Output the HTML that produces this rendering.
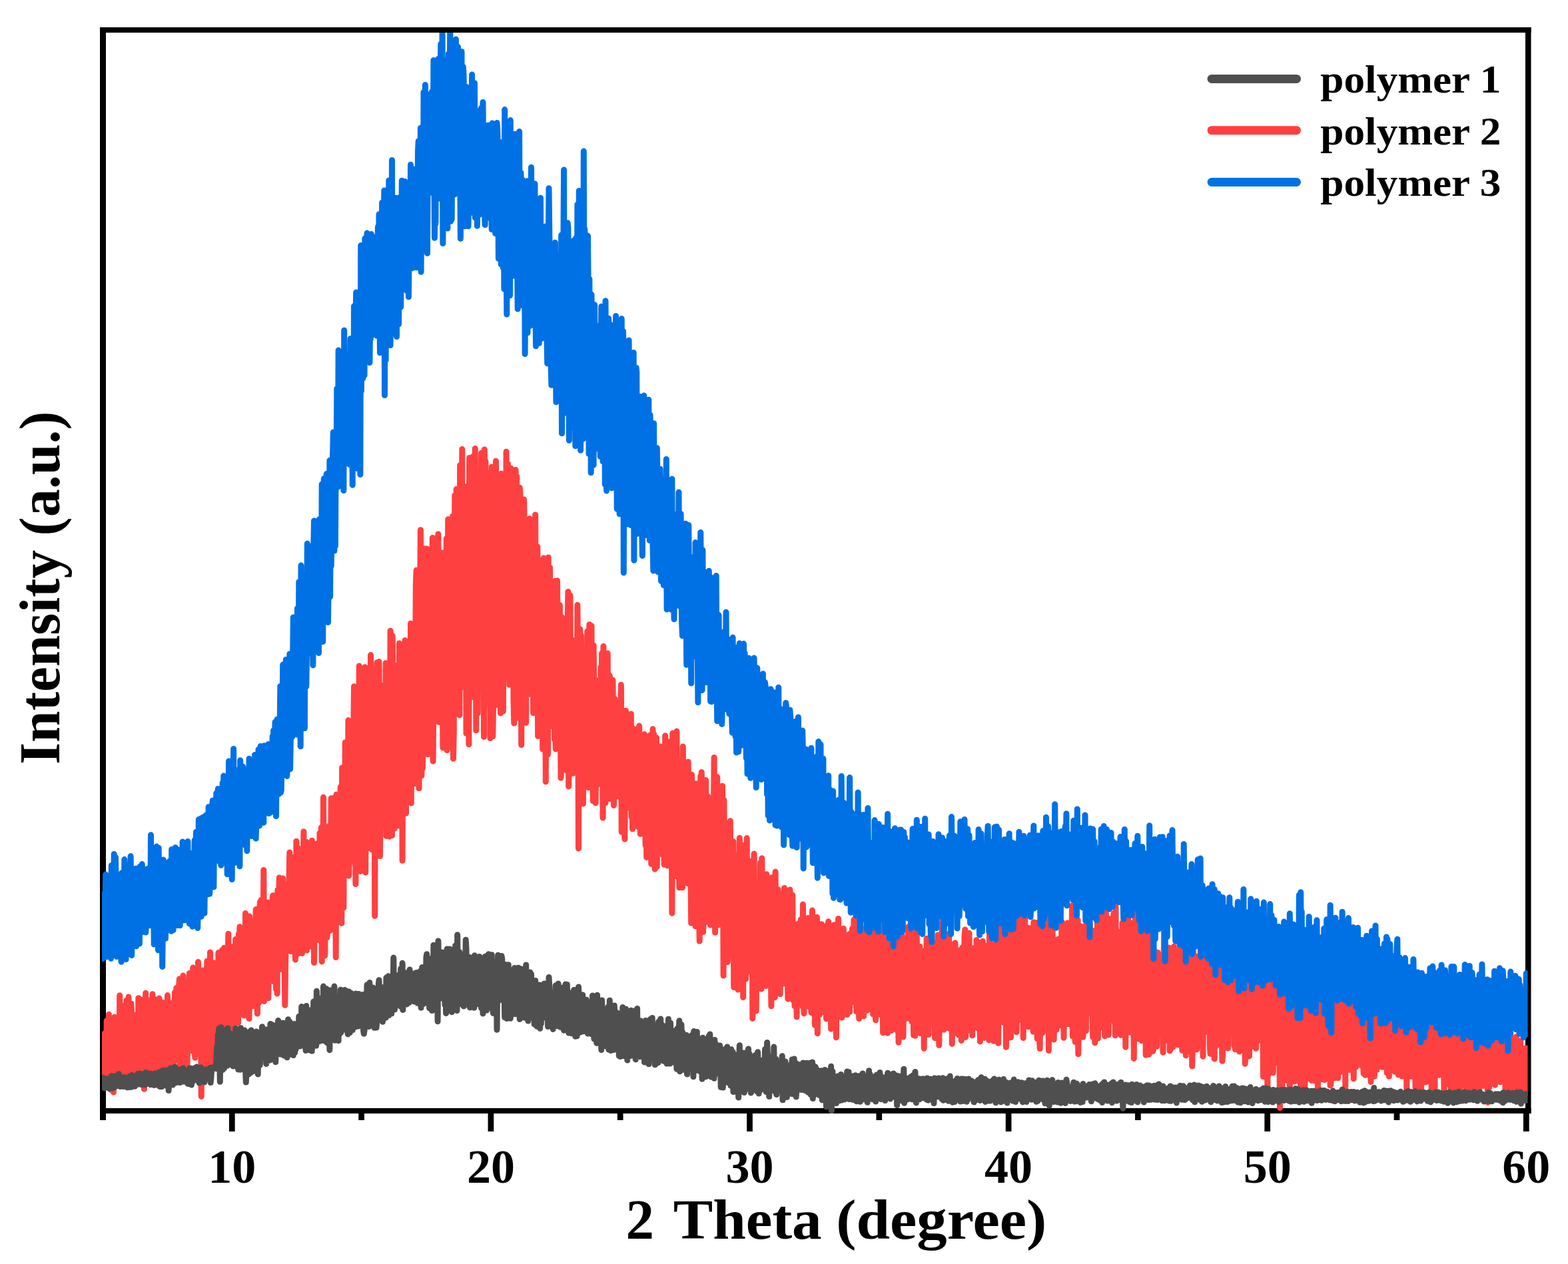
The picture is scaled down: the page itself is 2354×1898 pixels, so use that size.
<!DOCTYPE html>
<html><head><meta charset="utf-8"><style>
html,body{margin:0;padding:0;background:#fff;}
svg{display:block;}
text{font-family:"Liberation Serif","Times New Roman",serif;font-weight:bold;fill:#000;}
</style></head><body>
<svg width="2354" height="1898" viewBox="0 0 2354 1898" xmlns="http://www.w3.org/2000/svg">
<rect width="2354" height="1898" fill="#fff"/>
<defs><clipPath id="pc"><rect x="153" y="48.9" width="2140.5" height="1623.1"/></clipPath></defs>
<g fill="#000">
<rect x="150" y="41" width="9" height="1631"/>
<rect x="150" y="41" width="2148.5" height="8"/>
<rect x="2290" y="41" width="8.5" height="1631"/>
<rect x="150" y="1664" width="2148.5" height="8"/>
<rect x="343.95" y="1664" width="8.7" height="35"/><rect x="732.55" y="1664" width="8.7" height="35"/><rect x="1121.15" y="1664" width="8.7" height="35"/><rect x="1509.75" y="1664" width="8.7" height="35"/><rect x="1898.35" y="1664" width="8.7" height="35"/><rect x="2286.95" y="1664" width="8.7" height="35"/><rect x="538.25" y="1664" width="8.7" height="18"/><rect x="926.85" y="1664" width="8.7" height="18"/><rect x="1315.45" y="1664" width="8.7" height="18"/><rect x="1704.05" y="1664" width="8.7" height="18"/><rect x="2092.65" y="1664" width="8.7" height="18"/><rect x="150" y="1664" width="9" height="18"/>
</g>
<g clip-path="url(#pc)" fill="none" stroke-width="9.0" stroke-linejoin="round" stroke-linecap="round">
<path stroke="#ff4040" d="M154.0 1624.7L154.8 1586.4 155.6 1556.3 156.3 1570.7 157.1 1551.8 157.9 1588.7 158.7 1589.8 159.5 1622.9 160.2 1532.8 161.0 1588.1 161.8 1622.9 162.6 1567.8 163.4 1523.2 164.1 1610.1 164.9 1626.5 165.7 1552.8 166.5 1636.3 167.3 1625.9 168.0 1548.7 168.8 1567.3 169.6 1599.0 170.4 1639.9 171.2 1574.5 171.9 1527.2 172.7 1533.0 173.5 1564.9 174.3 1600.8 175.1 1624.5 175.8 1533.3 176.6 1612.4 177.4 1570.8 178.2 1548.2 179.0 1618.0 179.7 1494.8 180.5 1560.1 181.3 1562.0 182.1 1580.9 182.9 1609.7 183.6 1563.9 184.4 1510.4 185.2 1596.7 186.0 1602.3 186.8 1510.7 187.5 1548.0 188.3 1538.5 189.1 1628.6 189.9 1502.2 190.7 1587.1 191.4 1620.0 192.2 1557.6 193.0 1496.9 193.8 1579.7 194.6 1539.8 195.3 1579.9 196.1 1594.4 196.9 1507.1 197.7 1523.6 198.5 1631.9 199.2 1538.6 200.0 1585.6 200.8 1560.3 201.6 1608.3 202.4 1524.6 203.1 1578.2 203.9 1542.6 204.7 1581.3 205.5 1622.6 206.3 1522.5 207.0 1588.7 207.8 1498.8 208.6 1535.0 209.4 1622.5 210.2 1598.8 210.9 1535.8 211.7 1501.1 212.5 1577.9 213.3 1570.2 214.1 1528.4 214.8 1524.1 215.6 1596.7 216.4 1635.3 217.2 1561.5 218.0 1558.1 218.7 1491.3 219.5 1564.3 220.3 1606.5 221.1 1541.2 221.9 1509.4 222.6 1563.7 223.4 1620.5 224.2 1608.8 225.0 1522.7 225.8 1587.9 226.5 1501.4 227.3 1621.3 228.1 1556.4 228.9 1492.7 229.7 1559.2 230.4 1587.0 231.2 1620.7 232.0 1610.8 232.8 1590.7 233.6 1501.1 234.3 1524.8 235.1 1598.9 235.9 1521.6 236.7 1567.7 237.5 1614.9 238.2 1569.2 239.0 1499.1 239.8 1564.7 240.6 1613.0 241.4 1592.5 242.1 1537.7 242.9 1515.7 243.7 1581.1 244.5 1505.6 245.3 1556.0 246.0 1594.6 246.8 1525.8 247.6 1587.6 248.4 1524.9 249.2 1602.5 249.9 1553.3 250.7 1555.6 251.5 1494.6 252.3 1552.6 253.1 1612.1 253.8 1507.0 254.6 1521.4 255.4 1624.8 256.2 1572.3 257.0 1544.3 257.7 1591.8 258.5 1587.3 259.3 1505.8 260.1 1611.9 260.9 1554.6 261.6 1572.4 262.4 1490.3 263.2 1579.7 264.0 1523.4 264.8 1483.4 265.5 1592.1 266.3 1575.4 267.1 1524.8 267.9 1589.9 268.7 1479.6 269.4 1469.9 270.2 1614.2 271.0 1513.7 271.8 1570.6 272.6 1585.4 273.3 1618.2 274.1 1513.6 274.9 1465.1 275.7 1560.3 276.5 1513.5 277.2 1506.2 278.0 1608.5 278.8 1514.7 279.6 1570.8 280.4 1481.5 281.1 1597.2 281.9 1550.8 282.7 1564.6 283.5 1487.6 284.3 1461.6 285.0 1486.1 285.8 1577.2 286.6 1572.0 287.4 1526.8 288.2 1560.2 288.9 1537.1 289.7 1453.1 290.5 1579.4 291.3 1456.6 292.1 1569.3 292.8 1588.2 293.6 1490.8 294.4 1570.1 295.2 1458.0 296.0 1494.9 296.7 1568.9 297.5 1444.5 298.3 1580.1 299.1 1535.5 299.9 1534.3 300.6 1526.0 301.4 1469.2 302.2 1646.4 303.0 1539.0 303.8 1614.6 304.5 1457.1 305.3 1490.4 306.1 1540.4 306.9 1619.4 307.7 1529.4 308.4 1464.7 309.2 1459.5 310.0 1545.4 310.8 1443.2 311.6 1599.2 312.3 1505.3 313.1 1598.0 313.9 1468.5 314.7 1551.0 315.5 1429.9 316.2 1467.1 317.0 1540.7 317.8 1605.7 318.6 1513.6 319.4 1510.7 320.1 1445.5 320.9 1550.3 321.7 1494.5 322.5 1472.4 323.3 1582.5 324.0 1560.8 324.8 1479.6 325.6 1478.2 326.4 1569.9 327.2 1524.2 327.9 1430.6 328.7 1560.8 329.5 1477.7 330.3 1441.5 331.1 1521.5 331.8 1499.2 332.6 1525.6 333.4 1426.7 334.2 1556.6 335.0 1488.7 335.7 1542.1 336.5 1423.3 337.3 1543.8 338.1 1563.9 338.9 1529.4 339.6 1424.1 340.4 1470.1 341.2 1513.6 342.0 1472.9 342.8 1402.2 343.5 1547.0 344.3 1545.1 345.1 1499.6 345.9 1475.2 346.7 1421.4 347.4 1475.7 348.2 1510.8 349.0 1435.3 349.8 1570.5 350.6 1422.4 351.3 1456.9 352.1 1513.0 352.9 1524.0 353.7 1410.4 354.5 1525.0 355.2 1525.5 356.0 1424.3 356.8 1433.0 357.6 1536.0 358.4 1402.3 359.1 1502.6 359.9 1391.7 360.7 1443.0 361.5 1521.4 362.3 1499.1 363.0 1483.7 363.8 1411.3 364.6 1414.2 365.4 1506.8 366.2 1524.9 366.9 1433.4 367.7 1484.9 368.5 1371.5 369.3 1462.9 370.1 1457.4 370.8 1392.9 371.6 1521.3 372.4 1436.0 373.2 1475.8 374.0 1529.6 374.7 1376.0 375.5 1503.8 376.3 1450.9 377.1 1403.5 377.9 1439.3 378.6 1390.8 379.4 1510.6 380.2 1479.1 381.0 1439.8 381.8 1476.7 382.5 1382.3 383.3 1469.2 384.1 1365.9 384.9 1365.3 385.7 1428.2 386.4 1522.1 387.2 1404.4 388.0 1446.0 388.8 1505.7 389.6 1416.2 390.3 1354.4 391.1 1477.5 391.9 1351.5 392.7 1404.8 393.5 1426.4 394.2 1389.8 395.0 1443.5 395.8 1306.4 396.6 1503.5 397.4 1441.7 398.1 1373.0 398.9 1393.4 399.7 1467.7 400.5 1400.1 401.3 1453.5 402.0 1355.3 402.8 1498.7 403.6 1436.9 404.4 1373.4 405.2 1393.0 405.9 1460.4 406.7 1383.6 407.5 1445.6 408.3 1452.7 409.1 1347.5 409.8 1344.7 410.6 1473.6 411.4 1444.8 412.2 1371.7 413.0 1367.4 413.7 1418.4 414.5 1485.4 415.3 1358.1 416.1 1492.0 416.9 1336.3 417.6 1390.7 418.4 1373.1 419.2 1318.0 420.0 1353.3 420.8 1452.1 421.5 1441.7 422.3 1455.5 423.1 1374.6 423.9 1415.4 424.7 1319.1 425.4 1362.9 426.2 1339.4 427.0 1430.3 427.8 1509.4 428.6 1446.7 429.3 1402.4 430.1 1328.2 430.9 1362.4 431.7 1372.2 432.5 1393.3 433.2 1420.4 434.0 1322.3 434.8 1279.9 435.6 1406.6 436.4 1428.4 437.1 1317.7 437.9 1286.9 438.7 1420.8 439.5 1352.3 440.3 1376.7 441.0 1341.7 441.8 1306.6 442.6 1407.5 443.4 1440.9 444.2 1391.1 444.9 1263.3 445.7 1412.3 446.5 1362.6 447.3 1432.0 448.1 1273.9 448.8 1331.8 449.6 1365.1 450.4 1312.4 451.2 1413.3 452.0 1397.5 452.7 1324.9 453.5 1431.5 454.3 1376.0 455.1 1380.2 455.9 1248.8 456.6 1385.3 457.4 1417.2 458.2 1278.8 459.0 1350.9 459.8 1264.2 460.5 1427.1 461.3 1383.0 462.1 1349.7 462.9 1291.5 463.7 1325.5 464.4 1407.7 465.2 1350.8 466.0 1420.9 466.8 1378.5 467.6 1324.3 468.3 1262.3 469.1 1273.8 469.9 1312.2 470.7 1344.0 471.5 1445.6 472.2 1394.8 473.0 1348.2 473.8 1271.1 474.6 1277.1 475.4 1266.9 476.1 1296.4 476.9 1380.8 477.7 1355.1 478.5 1411.3 479.3 1331.0 480.0 1250.6 480.8 1308.1 481.6 1310.6 482.4 1242.4 483.2 1443.9 483.9 1351.1 484.7 1345.3 485.5 1197.2 486.3 1323.3 487.1 1401.6 487.8 1434.9 488.6 1257.5 489.4 1338.3 490.2 1291.7 491.0 1407.8 491.7 1363.1 492.5 1250.9 493.3 1248.4 494.1 1240.3 494.9 1397.8 495.6 1252.5 496.4 1350.4 497.2 1198.8 498.0 1395.9 498.8 1244.8 499.5 1361.4 500.3 1264.2 501.1 1198.2 501.9 1362.4 502.7 1365.6 503.4 1245.1 504.2 1437.6 505.0 1192.9 505.8 1307.0 506.6 1335.6 507.3 1314.4 508.1 1195.6 508.9 1258.5 509.7 1325.6 510.5 1363.2 511.2 1181.7 512.0 1235.6 512.8 1386.4 513.6 1152.8 514.4 1287.8 515.1 1213.2 515.9 1363.1 516.7 1203.1 517.5 1227.2 518.3 1114.8 519.0 1194.5 519.8 1232.5 520.6 1302.4 521.4 1121.7 522.2 1212.8 522.9 1081.6 523.7 1315.1 524.5 1283.9 525.3 1088.5 526.1 1190.0 526.8 1088.8 527.6 1274.8 528.4 1177.1 529.2 1293.0 530.0 1276.2 530.7 1104.5 531.5 1030.7 532.3 1217.4 533.1 1120.9 533.9 1327.6 534.6 1217.1 535.4 1091.5 536.2 1291.2 537.0 1143.8 537.8 1217.7 538.5 1143.5 539.3 999.9 540.1 1292.8 540.9 1308.4 541.7 1093.8 542.4 1033.8 543.2 1169.0 544.0 1126.0 544.8 1048.0 545.6 1247.8 546.3 1259.9 547.1 1131.0 547.9 1001.8 548.7 1310.1 549.5 1170.2 550.2 1048.3 551.0 1274.5 551.8 1171.5 552.6 1137.4 553.4 1146.7 554.1 1020.9 554.9 1246.5 555.7 1079.2 556.5 983.6 557.3 1111.8 558.0 1179.3 558.8 1276.0 559.6 1053.5 560.4 1226.2 561.2 1174.4 561.9 1115.8 562.7 1375.4 563.5 1119.8 564.3 1137.9 565.1 1054.2 565.8 995.0 566.6 1126.2 567.4 1086.2 568.2 1226.5 569.0 993.6 569.7 1113.6 570.5 1285.5 571.3 1161.6 572.1 1127.3 572.9 1217.6 573.6 1167.8 574.4 1029.6 575.2 1102.8 576.0 1238.8 576.8 1032.0 577.5 1116.9 578.3 1152.4 579.1 995.8 579.9 1255.4 580.7 1102.9 581.4 1186.1 582.2 1052.4 583.0 1238.3 583.8 1121.3 584.6 1256.1 585.3 1122.3 586.1 947.3 586.9 1029.5 587.7 1172.4 588.5 1254.6 589.2 954.8 590.0 1063.1 590.8 1125.0 591.6 1076.2 592.4 1244.1 593.1 999.4 593.9 1130.4 594.7 1020.7 595.5 1202.5 596.3 1019.0 597.0 1046.0 597.8 1174.6 598.6 1239.7 599.4 966.0 600.2 1007.1 600.9 1232.2 601.7 1149.7 602.5 1052.4 603.3 1037.1 604.1 1292.2 604.8 1122.5 605.6 979.9 606.4 1119.9 607.2 1217.2 608.0 961.5 608.7 1058.9 609.5 1221.3 610.3 1005.5 611.1 995.9 611.9 1080.3 612.6 982.8 613.4 1013.3 614.2 1204.0 615.0 1097.2 615.8 1110.5 616.5 936.3 617.3 1206.0 618.1 984.1 618.9 969.4 619.7 1164.5 620.4 1118.1 621.2 1005.8 622.0 1044.5 622.8 1176.4 623.6 995.4 624.3 878.5 625.1 856.3 625.9 1073.9 626.7 1014.1 627.5 1125.1 628.2 1002.5 629.0 1183.7 629.8 861.8 630.6 899.5 631.4 795.7 632.1 981.7 632.9 1164.9 633.7 990.7 634.5 1153.6 635.3 994.1 636.0 922.2 636.8 823.7 637.6 1017.1 638.4 1080.2 639.2 898.1 639.9 851.9 640.7 824.1 641.5 933.2 642.3 1132.8 643.1 971.1 643.8 1090.1 644.6 926.2 645.4 831.6 646.2 1055.1 647.0 1077.9 647.7 1083.4 648.5 866.9 649.3 807.6 650.1 1143.1 650.9 1047.4 651.6 926.5 652.4 856.0 653.2 923.7 654.0 808.2 654.8 986.1 655.5 1078.3 656.3 900.7 657.1 1026.1 657.9 801.9 658.7 1084.2 659.4 910.0 660.2 838.6 661.0 931.6 661.8 1068.9 662.6 1017.2 663.3 830.1 664.1 874.7 664.9 1122.8 665.7 1027.4 666.5 1063.7 667.2 912.1 668.0 840.6 668.8 969.7 669.6 868.9 670.4 808.4 671.1 1126.6 671.9 956.8 672.7 779.7 673.5 1121.7 674.3 835.7 675.0 815.6 675.8 1033.8 676.6 820.5 677.4 1025.8 678.2 973.7 678.9 907.9 679.7 774.9 680.5 1139.3 681.3 1099.7 682.1 890.0 682.8 743.8 683.6 925.0 684.4 1033.3 685.2 734.5 686.0 989.9 686.7 890.5 687.5 893.9 688.3 784.2 689.1 951.2 689.9 1073.8 690.6 698.8 691.4 723.1 692.2 1032.1 693.0 971.5 693.8 674.5 694.5 1032.0 695.3 893.2 696.1 832.5 696.9 907.2 697.7 730.5 698.4 1005.7 699.2 885.3 700.0 1101.2 700.8 1010.3 701.6 763.5 702.3 763.8 703.1 882.1 703.9 1117.8 704.7 687.5 705.5 768.9 706.2 936.0 707.0 838.6 707.8 690.3 708.6 998.5 709.4 820.3 710.1 985.1 710.9 684.4 711.7 1047.4 712.5 915.1 713.3 673.4 714.0 806.2 714.8 1096.8 715.6 757.4 716.4 800.3 717.2 1071.0 717.9 896.4 718.7 921.2 719.5 729.2 720.3 1032.5 721.1 841.1 721.8 933.0 722.6 680.2 723.4 995.9 724.2 722.4 725.0 938.7 725.7 740.5 726.5 1106.4 727.3 674.9 728.1 862.1 728.9 692.4 729.6 916.6 730.4 1053.7 731.2 709.8 732.0 811.2 732.8 918.8 733.5 1051.7 734.3 728.0 735.1 787.2 735.9 1108.5 736.7 950.8 737.4 823.7 738.2 701.2 739.0 885.8 739.8 1105.7 740.6 1055.1 741.3 747.0 742.1 935.0 742.9 770.2 743.7 1058.9 744.5 692.3 745.2 918.4 746.0 813.8 746.8 782.7 747.6 858.1 748.4 910.8 749.1 998.2 749.9 790.1 750.7 996.8 751.5 1070.9 752.3 711.2 753.0 726.4 753.8 916.7 754.6 830.4 755.4 1067.8 756.2 781.9 756.9 787.6 757.7 884.7 758.5 1017.1 759.3 875.6 760.1 678.3 760.8 999.7 761.6 958.9 762.4 696.1 763.2 903.4 764.0 861.5 764.7 1028.2 765.5 1003.9 766.3 918.6 767.1 703.2 767.9 865.1 768.6 744.8 769.4 946.3 770.2 840.1 771.0 1053.4 771.8 1086.1 772.5 831.4 773.3 884.3 774.1 705.4 774.9 1078.4 775.7 715.1 776.4 937.5 777.2 845.1 778.0 867.8 778.8 813.6 779.6 1050.3 780.3 732.5 781.1 747.5 781.9 905.6 782.7 1118.6 783.5 818.3 784.2 945.4 785.0 1078.0 785.8 819.8 786.6 749.9 787.4 798.8 788.1 991.4 788.9 855.5 789.7 1085.2 790.5 780.7 791.3 921.4 792.0 829.1 792.8 1041.3 793.6 864.3 794.4 1022.9 795.2 778.8 795.9 941.2 796.7 1042.4 797.5 929.9 798.3 997.1 799.1 827.6 799.8 785.2 800.6 1070.6 801.4 951.7 802.2 922.8 803.0 1008.9 803.7 773.0 804.5 1039.2 805.3 940.4 806.1 985.3 806.9 820.9 807.6 1105.4 808.4 919.4 809.2 841.4 810.0 1051.6 810.8 896.8 811.5 1099.4 812.3 928.3 813.1 841.6 813.9 984.9 814.7 1125.0 815.4 1030.9 816.2 837.9 817.0 932.0 817.8 1123.3 818.6 1012.4 819.3 1173.8 820.1 909.1 820.9 960.2 821.7 1011.4 822.5 1132.8 823.2 836.9 824.0 996.3 824.8 1001.1 825.6 852.1 826.4 987.6 827.1 1081.6 827.9 1090.3 828.7 1087.9 829.5 881.0 830.3 972.8 831.0 1050.8 831.8 965.5 832.6 1110.6 833.4 872.4 834.2 1124.7 834.9 1032.2 835.7 887.2 836.5 872.0 837.3 987.8 838.1 917.3 838.8 1077.9 839.6 1035.2 840.4 908.6 841.2 1069.9 842.0 1168.1 842.7 1016.6 843.5 926.7 844.3 1144.3 845.1 1029.0 845.9 993.3 846.6 965.1 847.4 1113.8 848.2 1038.4 849.0 1016.4 849.8 1075.2 850.5 1157.1 851.3 1016.5 852.1 938.2 852.9 888.4 853.7 1180.7 854.4 1073.6 855.2 987.9 856.0 894.1 856.8 1157.9 857.6 988.0 858.3 1082.6 859.1 961.2 859.9 1085.0 860.7 1161.2 861.5 1002.5 862.2 1132.1 863.0 1087.5 863.8 965.9 864.6 1052.3 865.4 1134.9 866.1 1074.5 866.9 908.4 867.7 1020.1 868.5 1274.1 869.3 1008.0 870.0 1110.6 870.8 944.8 871.6 1069.9 872.4 954.6 873.2 1070.5 873.9 1155.0 874.7 1072.2 875.5 1206.7 876.3 980.9 877.1 1142.6 877.8 1169.4 878.6 1119.0 879.4 1001.7 880.2 982.4 881.0 1099.3 881.7 948.1 882.5 1063.5 883.3 1182.5 884.1 1015.6 884.9 937.7 885.6 1160.5 886.4 1122.6 887.2 1120.4 888.0 939.7 888.8 1057.6 889.5 1153.1 890.3 1202.8 891.1 969.2 891.9 1034.5 892.7 1157.1 893.4 1020.5 894.2 1205.8 895.0 1116.5 895.8 1049.3 896.6 1153.0 897.3 1038.0 898.1 1022.3 898.9 1142.7 899.7 1084.5 900.5 1177.2 901.2 1136.6 902.0 1001.8 902.8 1051.8 903.6 980.9 904.4 1120.5 905.1 1228.1 905.9 970.5 906.7 1178.9 907.5 1031.7 908.3 1160.1 909.0 1205.5 909.8 1000.7 910.6 1083.9 911.4 1144.4 912.2 981.1 912.9 1135.7 913.7 1154.4 914.5 1061.6 915.3 1014.6 916.1 1199.6 916.8 1150.8 917.6 1133.6 918.4 1195.4 919.2 1161.7 920.0 1021.3 920.7 1126.2 921.5 1209.4 922.3 1094.8 923.1 1049.4 923.9 1156.9 924.6 1161.8 925.4 1195.2 926.2 1103.7 927.0 1053.9 927.8 1120.6 928.5 1196.3 929.3 1056.1 930.1 1148.6 930.9 1143.8 931.7 1096.6 932.4 1028.3 933.2 1249.2 934.0 1151.3 934.8 1103.1 935.6 1075.2 936.3 1205.5 937.1 1165.9 937.9 1260.1 938.7 1109.3 939.5 1067.2 940.2 1148.9 941.0 1213.4 941.8 1075.5 942.6 1179.7 943.4 1179.1 944.1 1150.6 944.9 1204.1 945.7 1110.1 946.5 1129.6 947.3 1072.0 948.0 1226.8 948.8 1190.0 949.6 1244.8 950.4 1093.9 951.2 1226.7 951.9 1179.1 952.7 1116.3 953.5 1164.6 954.3 1228.9 955.1 1211.9 955.8 1191.1 956.6 1094.8 957.4 1169.1 958.2 1241.8 959.0 1135.9 959.7 1090.1 960.5 1228.9 961.3 1252.2 962.1 1239.6 962.9 1137.2 963.6 1250.9 964.4 1141.0 965.2 1156.3 966.0 1244.1 966.8 1225.0 967.5 1102.6 968.3 1140.8 969.1 1269.2 969.9 1202.9 970.7 1287.4 971.4 1195.9 972.2 1112.1 973.0 1252.0 973.8 1234.0 974.6 1201.5 975.3 1264.2 976.1 1103.7 976.9 1169.3 977.7 1297.3 978.5 1164.7 979.2 1222.6 980.0 1094.8 980.8 1204.5 981.6 1102.0 982.4 1242.1 983.1 1305.1 983.9 1232.4 984.7 1167.6 985.5 1107.8 986.3 1301.3 987.0 1133.3 987.8 1241.1 988.6 1247.7 989.4 1222.5 990.2 1276.6 990.9 1257.0 991.7 1121.0 992.5 1154.8 993.3 1250.5 994.1 1185.9 994.8 1283.7 995.6 1146.8 996.4 1196.2 997.2 1298.3 998.0 1208.9 998.7 1104.7 999.5 1207.8 1000.3 1163.9 1001.1 1196.6 1001.9 1299.7 1002.6 1191.9 1003.4 1292.4 1004.2 1230.9 1005.0 1114.1 1005.8 1138.1 1006.5 1273.0 1007.3 1291.7 1008.1 1202.5 1008.9 1371.2 1009.7 1101.1 1010.4 1216.3 1011.2 1226.6 1012.0 1289.5 1012.8 1259.1 1013.6 1231.8 1014.3 1152.2 1015.1 1189.8 1015.9 1098.1 1016.7 1267.2 1017.5 1316.9 1018.2 1172.1 1019.0 1261.3 1019.8 1332.8 1020.6 1187.7 1021.4 1304.1 1022.1 1257.2 1022.9 1148.4 1023.7 1140.6 1024.5 1332.7 1025.3 1121.0 1026.0 1202.9 1026.8 1263.6 1027.6 1247.2 1028.4 1199.4 1029.2 1280.1 1029.9 1243.0 1030.7 1196.9 1031.5 1252.5 1032.3 1326.6 1033.1 1143.9 1033.8 1218.7 1034.6 1263.9 1035.4 1323.1 1036.2 1181.9 1037.0 1314.6 1037.7 1386.1 1038.5 1163.3 1039.3 1207.3 1040.1 1176.3 1040.9 1226.8 1041.6 1290.9 1042.4 1362.5 1043.2 1277.6 1044.0 1390.8 1044.8 1176.7 1045.5 1241.1 1046.3 1358.5 1047.1 1266.8 1047.9 1186.4 1048.7 1291.2 1049.4 1352.0 1050.2 1413.2 1051.0 1221.6 1051.8 1165.2 1052.6 1327.1 1053.3 1159.5 1054.1 1274.0 1054.9 1374.8 1055.7 1399.2 1056.5 1251.8 1057.2 1197.1 1058.0 1326.4 1058.8 1297.9 1059.6 1171.5 1060.4 1277.6 1061.1 1384.2 1061.9 1252.5 1062.7 1195.7 1063.5 1288.1 1064.3 1350.0 1065.0 1209.0 1065.8 1264.4 1066.6 1389.0 1067.4 1244.0 1068.2 1344.7 1068.9 1207.3 1069.7 1347.8 1070.5 1219.5 1071.3 1239.4 1072.1 1137.5 1072.8 1305.4 1073.6 1400.3 1074.4 1224.3 1075.2 1333.4 1076.0 1356.1 1076.7 1166.7 1077.5 1221.4 1078.3 1389.1 1079.1 1283.0 1079.9 1234.3 1080.6 1188.4 1081.4 1387.4 1082.2 1285.7 1083.0 1314.3 1083.8 1328.7 1084.5 1180.2 1085.3 1251.8 1086.1 1465.1 1086.9 1201.3 1087.7 1304.0 1088.4 1328.5 1089.2 1376.2 1090.0 1353.6 1090.8 1266.5 1091.6 1237.5 1092.3 1444.5 1093.1 1414.2 1093.9 1269.8 1094.7 1371.2 1095.5 1248.3 1096.2 1232.7 1097.0 1292.2 1097.8 1388.8 1098.6 1432.7 1099.4 1271.0 1100.1 1389.0 1100.9 1263.6 1101.7 1482.6 1102.5 1296.5 1103.3 1423.4 1104.0 1283.9 1104.8 1354.6 1105.6 1347.9 1106.4 1285.7 1107.2 1351.2 1107.9 1486.1 1108.7 1363.2 1109.5 1460.6 1110.3 1258.2 1111.1 1413.7 1111.8 1448.6 1112.6 1267.9 1113.4 1302.6 1114.2 1418.5 1115.0 1337.5 1115.7 1497.5 1116.5 1318.8 1117.3 1410.1 1118.1 1387.1 1118.9 1274.6 1119.6 1470.1 1120.4 1365.7 1121.2 1258.6 1122.0 1414.3 1122.8 1448.7 1123.5 1354.2 1124.3 1342.8 1125.1 1293.0 1125.9 1458.6 1126.7 1426.1 1127.4 1394.2 1128.2 1376.0 1129.0 1305.0 1129.8 1529.4 1130.6 1427.9 1131.3 1377.8 1132.1 1282.0 1132.9 1473.5 1133.7 1326.3 1134.5 1378.5 1135.2 1518.1 1136.0 1383.9 1136.8 1410.6 1137.6 1346.0 1138.4 1433.7 1139.1 1340.5 1139.9 1426.5 1140.7 1476.7 1141.5 1295.5 1142.3 1377.5 1143.0 1485.1 1143.8 1288.8 1144.6 1391.5 1145.4 1418.4 1146.2 1478.6 1146.9 1416.4 1147.7 1379.6 1148.5 1330.8 1149.3 1442.3 1150.1 1480.4 1150.8 1312.7 1151.6 1360.4 1152.4 1395.4 1153.2 1321.6 1154.0 1440.5 1154.7 1456.9 1155.5 1343.2 1156.3 1325.8 1157.1 1438.2 1157.9 1510.8 1158.6 1317.8 1159.4 1382.5 1160.2 1494.6 1161.0 1479.9 1161.8 1410.3 1162.5 1409.8 1163.3 1497.7 1164.1 1309.1 1164.9 1409.2 1165.7 1460.2 1166.4 1358.5 1167.2 1341.5 1168.0 1335.6 1168.8 1486.6 1169.6 1399.8 1170.3 1454.5 1171.1 1492.6 1171.9 1415.0 1172.7 1348.5 1173.5 1371.9 1174.2 1397.4 1175.0 1453.4 1175.8 1477.0 1176.6 1351.5 1177.4 1333.5 1178.1 1466.3 1178.9 1457.2 1179.7 1368.5 1180.5 1476.5 1181.3 1337.0 1182.0 1399.9 1182.8 1499.9 1183.6 1488.3 1184.4 1456.7 1185.2 1404.2 1185.9 1336.1 1186.7 1352.2 1187.5 1457.6 1188.3 1400.0 1189.1 1469.0 1189.8 1344.0 1190.6 1501.7 1191.4 1420.8 1192.2 1475.1 1193.0 1510.7 1193.7 1403.0 1194.5 1396.0 1195.3 1421.3 1196.1 1527.0 1196.9 1403.0 1197.6 1454.6 1198.4 1386.7 1199.2 1430.3 1200.0 1406.4 1200.8 1461.9 1201.5 1494.5 1202.3 1380.8 1203.1 1422.7 1203.9 1452.5 1204.7 1511.0 1205.4 1358.1 1206.2 1434.4 1207.0 1521.7 1207.8 1445.5 1208.6 1478.0 1209.3 1420.8 1210.1 1511.0 1210.9 1414.8 1211.7 1460.3 1212.5 1429.3 1213.2 1378.6 1214.0 1511.4 1214.8 1407.4 1215.6 1428.0 1216.4 1448.3 1217.1 1501.8 1217.9 1520.5 1218.7 1474.5 1219.5 1367.1 1220.3 1444.6 1221.0 1476.1 1221.8 1387.7 1222.6 1453.1 1223.4 1539.2 1224.2 1504.5 1224.9 1489.5 1225.7 1443.4 1226.5 1377.3 1227.3 1551.8 1228.1 1473.9 1228.8 1440.7 1229.6 1416.6 1230.4 1523.5 1231.2 1494.1 1232.0 1388.1 1232.7 1447.8 1233.5 1387.7 1234.3 1505.4 1235.1 1413.5 1235.9 1481.4 1236.6 1519.8 1237.4 1410.8 1238.2 1441.3 1239.0 1479.1 1239.8 1463.0 1240.5 1529.9 1241.3 1418.8 1242.1 1388.7 1242.9 1508.6 1243.7 1383.7 1244.4 1414.0 1245.2 1466.2 1246.0 1390.3 1246.8 1447.4 1247.6 1545.0 1248.3 1470.9 1249.1 1407.5 1249.9 1402.6 1250.7 1465.4 1251.5 1535.5 1252.2 1388.8 1253.0 1430.2 1253.8 1467.7 1254.6 1516.5 1255.4 1557.8 1256.1 1467.7 1256.9 1443.3 1257.7 1410.6 1258.5 1379.4 1259.3 1503.2 1260.0 1474.9 1260.8 1434.6 1261.6 1439.6 1262.4 1410.7 1263.2 1481.5 1263.9 1528.0 1264.7 1448.9 1265.5 1508.9 1266.3 1394.2 1267.1 1523.4 1267.8 1438.0 1268.6 1487.8 1269.4 1423.5 1270.2 1510.5 1271.0 1403.9 1271.7 1523.6 1272.5 1426.4 1273.3 1479.3 1274.1 1439.4 1274.9 1491.5 1275.6 1519.1 1276.4 1401.8 1277.2 1505.8 1278.0 1473.2 1278.8 1440.2 1279.5 1394.3 1280.3 1441.0 1281.1 1443.8 1281.9 1381.0 1282.7 1503.9 1283.4 1382.3 1284.2 1443.8 1285.0 1436.7 1285.8 1519.0 1286.6 1410.3 1287.3 1402.8 1288.1 1519.6 1288.9 1484.5 1289.7 1529.5 1290.5 1461.1 1291.2 1460.1 1292.0 1378.5 1292.8 1423.2 1293.6 1484.0 1294.4 1515.1 1295.1 1423.6 1295.9 1460.2 1296.7 1525.9 1297.5 1395.1 1298.3 1438.9 1299.0 1499.2 1299.8 1439.3 1300.6 1460.0 1301.4 1411.6 1302.2 1517.0 1302.9 1490.9 1303.7 1454.3 1304.5 1362.9 1305.3 1495.1 1306.1 1438.7 1306.8 1463.3 1307.6 1435.3 1308.4 1468.4 1309.2 1415.1 1310.0 1372.6 1310.7 1523.1 1311.5 1394.9 1312.3 1424.9 1313.1 1460.5 1313.9 1510.2 1314.6 1531.7 1315.4 1378.9 1316.2 1455.5 1317.0 1478.1 1317.8 1417.7 1318.5 1459.3 1319.3 1496.6 1320.1 1507.1 1320.9 1453.1 1321.7 1421.6 1322.4 1504.2 1323.2 1524.6 1324.0 1461.1 1324.8 1382.8 1325.6 1550.8 1326.3 1492.4 1327.1 1462.5 1327.9 1420.3 1328.7 1436.0 1329.5 1545.8 1330.2 1434.0 1331.0 1513.4 1331.8 1462.3 1332.6 1551.3 1333.4 1492.1 1334.1 1390.3 1334.9 1521.8 1335.7 1467.6 1336.5 1429.2 1337.3 1478.6 1338.0 1547.6 1338.8 1502.8 1339.6 1518.4 1340.4 1423.5 1341.2 1466.7 1341.9 1486.6 1342.7 1462.3 1343.5 1511.0 1344.3 1431.5 1345.1 1535.3 1345.8 1465.0 1346.6 1547.1 1347.4 1413.2 1348.2 1509.2 1349.0 1565.3 1349.7 1439.3 1350.5 1476.9 1351.3 1480.7 1352.1 1481.0 1352.9 1493.9 1353.6 1531.4 1354.4 1404.2 1355.2 1421.8 1356.0 1557.0 1356.8 1500.2 1357.5 1422.4 1358.3 1495.3 1359.1 1432.4 1359.9 1529.6 1360.7 1433.1 1361.4 1510.2 1362.2 1500.7 1363.0 1444.5 1363.8 1391.4 1364.6 1489.7 1365.3 1487.1 1366.1 1529.8 1366.9 1425.4 1367.7 1442.6 1368.5 1487.6 1369.2 1534.6 1370.0 1396.2 1370.8 1455.9 1371.6 1554.5 1372.4 1424.6 1373.1 1527.4 1373.9 1555.2 1374.7 1443.1 1375.5 1507.0 1376.3 1401.3 1377.0 1494.1 1377.8 1462.8 1378.6 1546.1 1379.4 1439.9 1380.2 1502.9 1380.9 1421.3 1381.7 1551.6 1382.5 1465.6 1383.3 1490.5 1384.1 1427.9 1384.8 1446.4 1385.6 1549.8 1386.4 1441.7 1387.2 1574.3 1388.0 1491.4 1388.7 1480.3 1389.5 1465.3 1390.3 1520.9 1391.1 1409.2 1391.9 1523.2 1392.6 1480.4 1393.4 1439.6 1394.2 1553.5 1395.0 1448.4 1395.8 1526.3 1396.5 1526.4 1397.3 1432.2 1398.1 1448.7 1398.9 1484.4 1399.7 1417.6 1400.4 1446.1 1401.2 1514.0 1402.0 1440.9 1402.8 1498.7 1403.6 1558.7 1404.3 1416.0 1405.1 1482.2 1405.9 1467.4 1406.7 1550.3 1407.5 1426.3 1408.2 1403.9 1409.0 1432.9 1409.8 1569.5 1410.6 1516.1 1411.4 1460.2 1412.1 1507.2 1412.9 1538.7 1413.7 1422.6 1414.5 1384.1 1415.3 1514.5 1416.0 1484.0 1416.8 1546.1 1417.6 1541.9 1418.4 1406.1 1419.2 1510.0 1419.9 1462.2 1420.7 1421.7 1421.5 1491.3 1422.3 1536.6 1423.1 1459.8 1423.8 1543.9 1424.6 1401.9 1425.4 1466.1 1426.2 1503.2 1427.0 1515.7 1427.7 1443.5 1428.5 1417.9 1429.3 1567.4 1430.1 1458.4 1430.9 1540.3 1431.6 1527.3 1432.4 1419.9 1433.2 1450.2 1434.0 1415.8 1434.8 1551.1 1435.5 1508.5 1436.3 1427.6 1437.1 1459.6 1437.9 1535.3 1438.7 1510.0 1439.4 1554.3 1440.2 1469.1 1441.0 1426.7 1441.8 1490.0 1442.6 1469.0 1443.3 1562.4 1444.1 1522.2 1444.9 1422.6 1445.7 1530.3 1446.5 1478.9 1447.2 1493.3 1448.0 1406.0 1448.8 1395.9 1449.6 1557.5 1450.4 1485.6 1451.1 1458.5 1451.9 1486.9 1452.7 1526.2 1453.5 1415.8 1454.3 1476.0 1455.0 1401.2 1455.8 1547.2 1456.6 1481.0 1457.4 1457.5 1458.2 1532.4 1458.9 1475.1 1459.7 1554.9 1460.5 1424.1 1461.3 1446.8 1462.1 1526.1 1462.8 1460.8 1463.6 1513.9 1464.4 1447.1 1465.2 1504.0 1466.0 1411.6 1466.7 1525.6 1467.5 1468.0 1468.3 1544.3 1469.1 1507.3 1469.9 1422.2 1470.6 1415.8 1471.4 1563.9 1472.2 1500.8 1473.0 1468.2 1473.8 1541.8 1474.5 1485.0 1475.3 1413.3 1476.1 1490.8 1476.9 1476.4 1477.7 1558.4 1478.4 1420.1 1479.2 1423.9 1480.0 1432.0 1480.8 1529.5 1481.6 1464.5 1482.3 1476.8 1483.1 1454.4 1483.9 1490.7 1484.7 1561.9 1485.5 1399.7 1486.2 1468.0 1487.0 1554.3 1487.8 1434.6 1488.6 1497.7 1489.4 1418.0 1490.1 1497.4 1490.9 1471.2 1491.7 1563.2 1492.5 1479.0 1493.3 1549.6 1494.0 1434.8 1494.8 1428.1 1495.6 1469.4 1496.4 1500.0 1497.2 1403.9 1497.9 1560.6 1498.7 1566.3 1499.5 1384.6 1500.3 1502.0 1501.1 1450.1 1501.8 1492.8 1502.6 1528.8 1503.4 1329.4 1504.2 1441.2 1505.0 1508.8 1505.7 1468.2 1506.5 1387.0 1507.3 1536.1 1508.1 1494.3 1508.9 1453.5 1509.6 1407.2 1510.4 1572.4 1511.2 1520.4 1512.0 1413.5 1512.8 1559.2 1513.5 1445.5 1514.3 1382.9 1515.1 1470.5 1515.9 1456.2 1516.7 1543.3 1517.4 1557.8 1518.2 1505.2 1519.0 1369.7 1519.8 1448.4 1520.6 1538.1 1521.3 1452.7 1522.1 1380.3 1522.9 1489.4 1523.7 1401.5 1524.5 1508.9 1525.2 1427.3 1526.0 1549.8 1526.8 1484.0 1527.6 1532.7 1528.4 1392.7 1529.1 1438.0 1529.9 1376.8 1530.7 1427.0 1531.5 1498.8 1532.3 1479.7 1533.0 1468.8 1533.8 1520.4 1534.6 1412.5 1535.4 1450.7 1536.2 1558.5 1536.9 1447.4 1537.7 1499.1 1538.5 1362.4 1539.3 1416.8 1540.1 1391.7 1540.8 1515.8 1541.6 1538.0 1542.4 1478.4 1543.2 1458.7 1544.0 1541.8 1544.7 1393.6 1545.5 1498.8 1546.3 1412.6 1547.1 1537.4 1547.9 1449.7 1548.6 1400.7 1549.4 1520.3 1550.2 1422.1 1551.0 1549.0 1551.8 1384.8 1552.5 1528.5 1553.3 1512.2 1554.1 1456.8 1554.9 1439.9 1555.7 1385.6 1556.4 1494.2 1557.2 1559.8 1558.0 1440.5 1558.8 1485.1 1559.6 1396.2 1560.3 1538.9 1561.1 1574.5 1561.9 1509.1 1562.7 1375.2 1563.5 1430.6 1564.2 1498.1 1565.0 1551.1 1565.8 1374.9 1566.6 1424.4 1567.4 1537.1 1568.1 1493.2 1568.9 1391.1 1569.7 1448.9 1570.5 1482.9 1571.3 1517.8 1572.0 1403.3 1572.8 1527.7 1573.6 1480.7 1574.4 1577.5 1575.2 1366.6 1575.9 1444.5 1576.7 1444.9 1577.5 1496.0 1578.3 1538.1 1579.1 1417.7 1579.8 1382.0 1580.6 1422.9 1581.4 1472.3 1582.2 1561.0 1583.0 1466.2 1583.7 1412.7 1584.5 1534.4 1585.3 1478.2 1586.1 1546.1 1586.9 1456.0 1587.6 1501.0 1588.4 1410.3 1589.2 1480.5 1590.0 1421.4 1590.8 1479.0 1591.5 1521.6 1592.3 1539.7 1593.1 1458.5 1593.9 1384.3 1594.7 1418.5 1595.4 1398.4 1596.2 1466.0 1597.0 1558.3 1597.8 1492.0 1598.6 1500.1 1599.3 1462.9 1600.1 1388.0 1600.9 1520.0 1601.7 1496.1 1602.5 1386.0 1603.2 1446.3 1604.0 1537.7 1604.8 1419.2 1605.6 1475.7 1606.4 1534.1 1607.1 1399.0 1607.9 1491.9 1608.7 1428.7 1609.5 1359.7 1610.3 1556.1 1611.0 1489.8 1611.8 1383.0 1612.6 1424.6 1613.4 1536.6 1614.2 1564.5 1614.9 1376.8 1615.7 1434.6 1616.5 1478.7 1617.3 1434.3 1618.1 1381.4 1618.8 1582.9 1619.6 1523.0 1620.4 1484.4 1621.2 1450.1 1622.0 1528.0 1622.7 1391.1 1623.5 1520.7 1624.3 1412.0 1625.1 1441.8 1625.9 1557.2 1626.6 1442.0 1627.4 1391.3 1628.2 1474.1 1629.0 1525.3 1629.8 1447.9 1630.5 1547.9 1631.3 1495.2 1632.1 1382.2 1632.9 1405.4 1633.7 1521.7 1634.4 1417.7 1635.2 1482.2 1636.0 1387.7 1636.8 1512.5 1637.6 1519.8 1638.3 1426.8 1639.1 1431.7 1639.9 1487.8 1640.7 1557.3 1641.5 1461.3 1642.2 1433.6 1643.0 1397.6 1643.8 1565.7 1644.6 1494.7 1645.4 1455.2 1646.1 1514.7 1646.9 1511.4 1647.7 1349.0 1648.5 1559.1 1649.3 1415.7 1650.0 1509.7 1650.8 1451.2 1651.6 1520.5 1652.4 1526.8 1653.2 1343.2 1653.9 1449.6 1654.7 1542.4 1655.5 1489.0 1656.3 1409.1 1657.1 1482.8 1657.8 1452.8 1658.6 1555.9 1659.4 1441.5 1660.2 1362.3 1661.0 1462.0 1661.7 1550.9 1662.5 1395.5 1663.3 1489.0 1664.1 1554.0 1664.9 1478.3 1665.6 1407.4 1666.4 1379.8 1667.2 1405.4 1668.0 1436.8 1668.8 1528.3 1669.5 1519.5 1670.3 1528.1 1671.1 1532.8 1671.9 1371.7 1672.7 1429.5 1673.4 1458.7 1674.2 1554.7 1675.0 1360.5 1675.8 1513.9 1676.6 1539.0 1677.3 1499.7 1678.1 1399.4 1678.9 1449.6 1679.7 1548.5 1680.5 1466.5 1681.2 1420.7 1682.0 1400.6 1682.8 1554.4 1683.6 1462.8 1684.4 1481.2 1685.1 1385.6 1685.9 1530.1 1686.7 1401.7 1687.5 1488.5 1688.3 1461.2 1689.0 1434.5 1689.8 1572.3 1690.6 1364.2 1691.4 1490.1 1692.2 1550.7 1692.9 1453.5 1693.7 1374.7 1694.5 1495.9 1695.3 1396.9 1696.1 1396.5 1696.8 1550.1 1697.6 1481.0 1698.4 1422.1 1699.2 1529.8 1700.0 1385.9 1700.7 1517.1 1701.5 1466.1 1702.3 1589.4 1703.1 1449.5 1703.9 1410.5 1704.6 1369.1 1705.4 1414.1 1706.2 1510.2 1707.0 1546.1 1707.8 1396.4 1708.5 1438.6 1709.3 1559.9 1710.1 1501.6 1710.9 1515.3 1711.7 1423.5 1712.4 1530.8 1713.2 1480.9 1714.0 1562.7 1714.8 1382.5 1715.6 1486.8 1716.3 1465.9 1717.1 1414.0 1717.9 1547.8 1718.7 1495.7 1719.5 1378.2 1720.2 1584.2 1721.0 1466.5 1721.8 1493.7 1722.6 1416.0 1723.4 1521.5 1724.1 1454.5 1724.9 1583.2 1725.7 1449.5 1726.5 1512.9 1727.3 1402.4 1728.0 1440.6 1728.8 1566.3 1729.6 1427.8 1730.4 1578.8 1731.2 1577.8 1731.9 1489.1 1732.7 1472.3 1733.5 1530.3 1734.3 1428.6 1735.1 1558.5 1735.8 1518.8 1736.6 1571.2 1737.4 1447.9 1738.2 1430.6 1739.0 1437.5 1739.7 1480.7 1740.5 1516.6 1741.3 1514.8 1742.1 1448.1 1742.9 1442.1 1743.6 1542.1 1744.4 1505.5 1745.2 1507.3 1746.0 1580.2 1746.8 1522.1 1747.5 1398.5 1748.3 1425.8 1749.1 1520.0 1749.9 1546.1 1750.7 1481.9 1751.4 1448.7 1752.2 1483.3 1753.0 1515.4 1753.8 1562.7 1754.6 1422.9 1755.3 1441.1 1756.1 1577.9 1756.9 1576.6 1757.7 1466.0 1758.5 1523.3 1759.2 1427.7 1760.0 1557.2 1760.8 1572.2 1761.6 1461.5 1762.4 1421.3 1763.1 1532.4 1763.9 1545.9 1764.7 1499.9 1765.5 1496.5 1766.3 1435.6 1767.0 1430.2 1767.8 1568.9 1768.6 1545.2 1769.4 1496.7 1770.2 1566.7 1770.9 1505.3 1771.7 1397.6 1772.5 1457.7 1773.3 1419.9 1774.1 1484.0 1774.8 1577.3 1775.6 1522.7 1776.4 1483.0 1777.2 1524.9 1778.0 1549.7 1778.7 1410.4 1779.5 1452.6 1780.3 1584.9 1781.1 1493.6 1781.9 1548.5 1782.6 1555.4 1783.4 1444.6 1784.2 1532.3 1785.0 1447.0 1785.8 1512.6 1786.5 1452.9 1787.3 1579.4 1788.1 1418.8 1788.9 1489.2 1789.7 1601.0 1790.4 1573.3 1791.2 1418.9 1792.0 1450.1 1792.8 1564.5 1793.6 1519.4 1794.3 1443.5 1795.1 1525.8 1795.9 1443.1 1796.7 1575.9 1797.5 1436.2 1798.2 1571.3 1799.0 1459.7 1799.8 1462.9 1800.6 1568.2 1801.4 1522.4 1802.1 1435.5 1802.9 1407.0 1803.7 1563.3 1804.5 1507.7 1805.3 1476.2 1806.0 1586.3 1806.8 1415.7 1807.6 1465.2 1808.4 1516.1 1809.2 1437.0 1809.9 1547.8 1810.7 1549.2 1811.5 1422.9 1812.3 1532.7 1813.1 1457.5 1813.8 1501.8 1814.6 1521.5 1815.4 1436.3 1816.2 1567.5 1817.0 1582.4 1817.7 1537.5 1818.5 1433.9 1819.3 1490.3 1820.1 1502.3 1820.9 1379.8 1821.6 1503.7 1822.4 1578.0 1823.2 1589.9 1824.0 1475.6 1824.8 1450.2 1825.5 1571.1 1826.3 1506.8 1827.1 1460.9 1827.9 1556.3 1828.7 1501.9 1829.4 1469.2 1830.2 1556.6 1831.0 1422.1 1831.8 1567.3 1832.6 1471.7 1833.3 1449.8 1834.1 1541.5 1834.9 1593.2 1835.7 1581.8 1836.5 1464.2 1837.2 1573.9 1838.0 1496.3 1838.8 1440.7 1839.6 1541.9 1840.4 1557.5 1841.1 1499.2 1841.9 1442.7 1842.7 1531.2 1843.5 1574.1 1844.3 1494.1 1845.0 1525.2 1845.8 1543.1 1846.6 1465.3 1847.4 1457.2 1848.2 1534.5 1848.9 1473.1 1849.7 1546.6 1850.5 1455.2 1851.3 1502.2 1852.1 1467.2 1852.8 1570.8 1853.6 1464.9 1854.4 1575.7 1855.2 1551.9 1856.0 1456.5 1856.7 1516.4 1857.5 1415.0 1858.3 1477.5 1859.1 1570.3 1859.9 1539.7 1860.6 1579.1 1861.4 1433.6 1862.2 1488.5 1863.0 1514.0 1863.8 1558.5 1864.5 1572.8 1865.3 1485.6 1866.1 1451.9 1866.9 1576.7 1867.7 1437.8 1868.4 1457.6 1869.2 1597.4 1870.0 1563.5 1870.8 1487.1 1871.6 1527.1 1872.3 1440.7 1873.1 1466.7 1873.9 1493.4 1874.7 1536.9 1875.5 1585.9 1876.2 1464.5 1877.0 1571.8 1877.8 1549.0 1878.6 1465.0 1879.4 1571.2 1880.1 1512.8 1880.9 1479.0 1881.7 1548.2 1882.5 1477.8 1883.3 1519.7 1884.0 1571.1 1884.8 1529.5 1885.6 1574.3 1886.4 1468.4 1887.2 1503.9 1887.9 1503.9 1888.7 1463.4 1889.5 1426.7 1890.3 1562.0 1891.1 1561.8 1891.8 1555.3 1892.6 1456.9 1893.4 1532.2 1894.2 1520.1 1895.0 1443.4 1895.7 1515.8 1896.5 1616.8 1897.3 1570.7 1898.1 1558.9 1898.9 1501.7 1899.6 1470.9 1900.4 1614.4 1901.2 1497.3 1902.0 1517.3 1902.8 1632.7 1903.5 1574.6 1904.3 1613.3 1905.1 1488.7 1905.9 1528.0 1906.7 1582.7 1907.4 1549.5 1908.2 1512.4 1909.0 1463.7 1909.8 1581.6 1910.6 1533.2 1911.3 1610.8 1912.1 1502.4 1912.9 1582.3 1913.7 1558.8 1914.5 1537.8 1915.2 1434.3 1916.0 1592.1 1916.8 1575.4 1917.6 1595.4 1918.4 1542.7 1919.1 1475.4 1919.9 1562.9 1920.7 1551.6 1921.5 1663.5 1922.3 1437.4 1923.0 1550.5 1923.8 1487.7 1924.6 1651.7 1925.4 1576.1 1926.2 1505.4 1926.9 1562.0 1927.7 1475.3 1928.5 1608.5 1929.3 1618.8 1930.1 1582.7 1930.8 1559.6 1931.6 1518.8 1932.4 1622.5 1933.2 1562.9 1934.0 1541.7 1934.7 1509.8 1935.5 1551.7 1936.3 1639.3 1937.1 1476.4 1937.9 1552.9 1938.6 1536.0 1939.4 1511.6 1940.2 1615.8 1941.0 1534.8 1941.8 1490.5 1942.5 1587.6 1943.3 1623.9 1944.1 1534.8 1944.9 1546.2 1945.7 1563.5 1946.4 1493.5 1947.2 1622.7 1948.0 1505.4 1948.8 1611.4 1949.6 1605.7 1950.3 1571.0 1951.1 1589.9 1951.9 1505.6 1952.7 1652.1 1953.5 1563.0 1954.2 1524.8 1955.0 1636.6 1955.8 1490.7 1956.6 1588.3 1957.4 1541.2 1958.1 1492.6 1958.9 1630.6 1959.7 1608.4 1960.5 1522.2 1961.3 1583.9 1962.0 1617.5 1962.8 1510.8 1963.6 1530.3 1964.4 1508.5 1965.2 1594.9 1965.9 1619.7 1966.7 1512.3 1967.5 1538.0 1968.3 1576.1 1969.1 1622.4 1969.8 1496.4 1970.6 1575.8 1971.4 1603.0 1972.2 1551.2 1973.0 1550.2 1973.7 1622.7 1974.5 1495.2 1975.3 1610.6 1976.1 1521.3 1976.9 1593.2 1977.6 1544.6 1978.4 1635.1 1979.2 1567.4 1980.0 1607.7 1980.8 1536.1 1981.5 1501.1 1982.3 1610.9 1983.1 1505.7 1983.9 1620.4 1984.7 1490.4 1985.4 1595.6 1986.2 1500.8 1987.0 1509.9 1987.8 1614.0 1988.6 1621.5 1989.3 1489.1 1990.1 1568.6 1990.9 1551.5 1991.7 1496.4 1992.5 1611.7 1993.2 1593.3 1994.0 1523.9 1994.8 1495.9 1995.6 1577.4 1996.4 1528.1 1997.1 1630.1 1997.9 1628.3 1998.7 1491.8 1999.5 1562.3 2000.3 1557.2 2001.0 1551.4 2001.8 1547.8 2002.6 1494.9 2003.4 1618.7 2004.2 1577.1 2004.9 1617.6 2005.7 1521.5 2006.5 1513.3 2007.3 1572.6 2008.1 1493.1 2008.8 1618.7 2009.6 1529.5 2010.4 1522.9 2011.2 1552.3 2012.0 1565.3 2012.7 1609.3 2013.5 1547.1 2014.3 1576.2 2015.1 1510.8 2015.9 1607.4 2016.6 1574.0 2017.4 1489.6 2018.2 1594.6 2019.0 1520.0 2019.8 1632.9 2020.5 1482.6 2021.3 1589.0 2022.1 1534.3 2022.9 1513.4 2023.7 1563.2 2024.4 1600.2 2025.2 1575.1 2026.0 1606.3 2026.8 1523.8 2027.6 1582.4 2028.3 1525.8 2029.1 1563.9 2029.9 1603.6 2030.7 1502.1 2031.5 1526.4 2032.2 1619.9 2033.0 1570.7 2033.8 1542.2 2034.6 1544.8 2035.4 1602.6 2036.1 1531.0 2036.9 1581.9 2037.7 1514.4 2038.5 1499.7 2039.3 1572.9 2040.0 1580.8 2040.8 1558.8 2041.6 1551.5 2042.4 1562.1 2043.2 1500.5 2043.9 1600.2 2044.7 1509.0 2045.5 1547.3 2046.3 1581.2 2047.1 1612.1 2047.8 1569.6 2048.6 1531.8 2049.4 1614.4 2050.2 1521.9 2051.0 1613.8 2051.7 1571.4 2052.5 1548.1 2053.3 1517.1 2054.1 1535.7 2054.9 1520.6 2055.6 1568.3 2056.4 1586.3 2057.2 1573.0 2058.0 1624.5 2058.8 1561.9 2059.5 1499.4 2060.3 1593.8 2061.1 1540.0 2061.9 1520.0 2062.7 1587.6 2063.4 1616.2 2064.2 1552.7 2065.0 1534.5 2065.8 1572.2 2066.6 1566.0 2067.3 1606.2 2068.1 1519.2 2068.9 1553.4 2069.7 1520.5 2070.5 1598.2 2071.2 1535.1 2072.0 1590.4 2072.8 1580.2 2073.6 1530.9 2074.4 1532.6 2075.1 1602.4 2075.9 1527.1 2076.7 1600.1 2077.5 1574.5 2078.3 1547.4 2079.0 1582.8 2079.8 1557.2 2080.6 1591.9 2081.4 1523.8 2082.2 1611.1 2082.9 1528.3 2083.7 1558.6 2084.5 1611.2 2085.3 1616.3 2086.1 1575.3 2086.8 1536.9 2087.6 1551.9 2088.4 1556.0 2089.2 1599.0 2090.0 1587.4 2090.7 1522.5 2091.5 1521.9 2092.3 1568.6 2093.1 1547.4 2093.9 1609.3 2094.6 1541.9 2095.4 1607.9 2096.2 1568.6 2097.0 1511.9 2097.8 1512.7 2098.5 1550.3 2099.3 1613.9 2100.1 1589.6 2100.9 1572.1 2101.7 1608.3 2102.4 1550.6 2103.2 1528.8 2104.0 1589.7 2104.8 1616.1 2105.6 1522.8 2106.3 1564.9 2107.1 1549.7 2107.9 1575.4 2108.7 1523.1 2109.5 1600.8 2110.2 1578.0 2111.0 1524.6 2111.8 1635.5 2112.6 1561.0 2113.4 1596.8 2114.1 1617.0 2114.9 1535.3 2115.7 1572.4 2116.5 1603.5 2117.3 1529.5 2118.0 1559.8 2118.8 1616.4 2119.6 1593.5 2120.4 1599.6 2121.2 1567.4 2121.9 1552.2 2122.7 1573.9 2123.5 1540.0 2124.3 1600.9 2125.1 1634.2 2125.8 1531.3 2126.6 1595.8 2127.4 1550.1 2128.2 1611.2 2129.0 1533.9 2129.7 1570.0 2130.5 1589.8 2131.3 1630.5 2132.1 1524.0 2132.9 1606.9 2133.6 1641.3 2134.4 1543.2 2135.2 1564.7 2136.0 1624.5 2136.8 1538.8 2137.5 1593.4 2138.3 1510.7 2139.1 1594.8 2139.9 1624.9 2140.7 1552.8 2141.4 1609.0 2142.2 1594.8 2143.0 1563.7 2143.8 1545.5 2144.6 1579.3 2145.3 1594.3 2146.1 1624.4 2146.9 1538.7 2147.7 1609.3 2148.5 1575.3 2149.2 1635.9 2150.0 1544.6 2150.8 1526.9 2151.6 1618.5 2152.4 1560.2 2153.1 1586.2 2153.9 1644.7 2154.7 1535.8 2155.5 1605.0 2156.3 1522.9 2157.0 1572.9 2157.8 1542.3 2158.6 1610.5 2159.4 1587.4 2160.2 1614.3 2160.9 1536.1 2161.7 1602.1 2162.5 1571.4 2163.3 1546.5 2164.1 1566.5 2164.8 1611.7 2165.6 1602.3 2166.4 1548.2 2167.2 1571.5 2168.0 1643.5 2168.7 1596.5 2169.5 1582.8 2170.3 1626.2 2171.1 1596.6 2171.9 1545.6 2172.6 1594.6 2173.4 1627.9 2174.2 1571.6 2175.0 1576.8 2175.8 1595.8 2176.5 1539.2 2177.3 1563.7 2178.1 1634.8 2178.9 1536.3 2179.7 1618.3 2180.4 1633.9 2181.2 1578.6 2182.0 1650.0 2182.8 1575.0 2183.6 1559.8 2184.3 1593.7 2185.1 1587.0 2185.9 1630.9 2186.7 1551.5 2187.5 1614.4 2188.2 1647.7 2189.0 1571.3 2189.8 1609.1 2190.6 1541.9 2191.4 1595.3 2192.1 1639.9 2192.9 1592.3 2193.7 1555.3 2194.5 1550.4 2195.3 1586.6 2196.0 1630.4 2196.8 1621.5 2197.6 1580.6 2198.4 1620.5 2199.2 1595.3 2199.9 1555.1 2200.7 1553.9 2201.5 1582.1 2202.3 1641.9 2203.1 1616.1 2203.8 1630.7 2204.6 1610.3 2205.4 1548.8 2206.2 1573.6 2207.0 1644.4 2207.7 1587.3 2208.5 1565.4 2209.3 1599.6 2210.1 1587.5 2210.9 1627.8 2211.6 1611.4 2212.4 1556.7 2213.2 1630.9 2214.0 1603.2 2214.8 1554.1 2215.5 1560.2 2216.3 1638.4 2217.1 1541.7 2217.9 1600.4 2218.7 1580.0 2219.4 1547.9 2220.2 1643.8 2221.0 1602.4 2221.8 1583.5 2222.6 1565.1 2223.3 1580.5 2224.1 1607.0 2224.9 1624.4 2225.7 1587.2 2226.5 1630.3 2227.2 1561.9 2228.0 1626.2 2228.8 1551.6 2229.6 1574.9 2230.4 1630.3 2231.1 1619.4 2231.9 1574.4 2232.7 1565.2 2233.5 1655.4 2234.3 1597.5 2235.0 1583.1 2235.8 1632.6 2236.6 1611.2 2237.4 1553.8 2238.2 1558.5 2238.9 1601.8 2239.7 1620.9 2240.5 1611.4 2241.3 1563.6 2242.1 1597.6 2242.8 1608.8 2243.6 1620.6 2244.4 1629.2 2245.2 1605.5 2246.0 1601.8 2246.7 1564.1 2247.5 1614.2 2248.3 1615.5 2249.1 1564.2 2249.9 1578.3 2250.6 1554.4 2251.4 1612.2 2252.2 1624.8 2253.0 1577.1 2253.8 1548.0 2254.5 1613.7 2255.3 1555.3 2256.1 1619.1 2256.9 1592.4 2257.7 1615.3 2258.4 1615.5 2259.2 1566.0 2260.0 1635.4 2260.8 1618.4 2261.6 1587.8 2262.3 1582.5 2263.1 1582.9 2263.9 1585.0 2264.7 1639.8 2265.5 1613.8 2266.2 1581.9 2267.0 1619.2 2267.8 1551.8 2268.6 1613.2 2269.4 1579.2 2270.1 1570.6 2270.9 1616.2 2271.7 1635.5 2272.5 1602.0 2273.3 1582.4 2274.0 1604.1 2274.8 1624.1 2275.6 1589.1 2276.4 1556.7 2277.2 1637.2 2277.9 1601.0 2278.7 1586.6 2279.5 1628.1 2280.3 1613.7 2281.1 1564.4 2281.8 1646.1 2282.6 1563.0 2283.4 1604.8 2284.2 1586.0 2285.0 1590.4 2285.7 1576.8 2286.5 1632.6 2287.3 1624.2 2288.1 1620.1 2288.9 1586.6 2289.6 1574.2 2290.4 1642.6 2291.2 1576.6 2292.0 1615.8 2292.8 1574.1 2293.5 1640.8"/>
<path stroke="#4f4f4f" d="M154.0 1618.2L154.8 1625.4 155.6 1628.0 156.3 1631.8 157.1 1634.1 157.9 1619.4 158.7 1627.3 159.5 1623.2 160.2 1633.1 161.0 1620.4 161.8 1623.9 162.6 1625.9 163.4 1630.2 164.1 1634.5 164.9 1622.8 165.7 1617.7 166.5 1622.2 167.3 1615.7 168.0 1628.2 168.8 1634.2 169.6 1621.6 170.4 1616.1 171.2 1631.7 171.9 1627.9 172.7 1632.0 173.5 1615.7 174.3 1622.9 175.1 1625.6 175.8 1620.1 176.6 1630.4 177.4 1626.7 178.2 1612.7 179.0 1624.3 179.7 1618.9 180.5 1631.6 181.3 1627.7 182.1 1629.1 182.9 1624.0 183.6 1617.6 184.4 1625.7 185.2 1631.6 186.0 1623.8 186.8 1620.4 187.5 1617.5 188.3 1625.6 189.1 1618.5 189.9 1632.4 190.7 1624.1 191.4 1632.9 192.2 1620.7 193.0 1624.5 193.8 1619.6 194.6 1616.3 195.3 1623.1 196.1 1632.5 196.9 1620.6 197.7 1614.5 198.5 1628.7 199.2 1620.7 200.0 1625.9 200.8 1618.3 201.6 1625.2 202.4 1631.2 203.1 1615.7 203.9 1620.9 204.7 1628.2 205.5 1620.9 206.3 1616.0 207.0 1612.3 207.8 1628.1 208.6 1628.0 209.4 1618.7 210.2 1611.9 210.9 1620.8 211.7 1621.1 212.5 1628.3 213.3 1628.9 214.1 1614.1 214.8 1621.1 215.6 1622.8 216.4 1624.3 217.2 1621.7 218.0 1628.9 218.7 1610.4 219.5 1626.3 220.3 1617.4 221.1 1625.2 221.9 1616.5 222.6 1611.7 223.4 1618.4 224.2 1623.6 225.0 1627.1 225.8 1628.7 226.5 1612.3 227.3 1618.0 228.1 1627.0 228.9 1614.5 229.7 1619.1 230.4 1625.2 231.2 1629.5 232.0 1621.2 232.8 1611.8 233.6 1617.8 234.3 1627.5 235.1 1619.4 235.9 1629.0 236.7 1611.9 237.5 1625.0 238.2 1624.3 239.0 1609.8 239.8 1631.4 240.6 1618.4 241.4 1618.9 242.1 1623.2 242.9 1631.5 243.7 1607.7 244.5 1616.1 245.3 1607.2 246.0 1627.3 246.8 1618.0 247.6 1629.7 248.4 1616.3 249.2 1609.0 249.9 1624.3 250.7 1615.4 251.5 1606.9 252.3 1623.4 253.1 1637.6 253.8 1624.5 254.6 1625.1 255.4 1615.2 256.2 1603.9 257.0 1606.9 257.7 1620.7 258.5 1614.8 259.3 1629.0 260.1 1620.0 260.9 1615.5 261.6 1624.0 262.4 1602.0 263.2 1626.0 264.0 1619.8 264.8 1606.6 265.5 1612.5 266.3 1614.8 267.1 1607.8 267.9 1624.9 268.7 1618.6 269.4 1606.2 270.2 1625.6 271.0 1605.9 271.8 1621.1 272.6 1616.9 273.3 1622.2 274.1 1616.0 274.9 1603.9 275.7 1624.0 276.5 1611.5 277.2 1608.3 278.0 1620.0 278.8 1610.5 279.6 1621.2 280.4 1624.6 281.1 1616.9 281.9 1627.4 282.7 1611.9 283.5 1616.4 284.3 1604.1 285.0 1621.0 285.8 1614.2 286.6 1604.2 287.4 1628.9 288.2 1613.4 288.9 1624.4 289.7 1619.9 290.5 1608.4 291.3 1620.6 292.1 1603.8 292.8 1606.7 293.6 1616.4 294.4 1609.1 295.2 1602.0 296.0 1622.1 296.7 1618.2 297.5 1607.9 298.3 1619.6 299.1 1626.1 299.9 1613.8 300.6 1624.6 301.4 1603.0 302.2 1611.8 303.0 1618.5 303.8 1606.2 304.5 1606.5 305.3 1615.7 306.1 1622.9 306.9 1625.0 307.7 1612.8 308.4 1606.0 309.2 1614.1 310.0 1608.2 310.8 1619.5 311.6 1616.0 312.3 1605.7 313.1 1610.4 313.9 1618.4 314.7 1616.3 315.5 1603.3 316.2 1625.6 317.0 1616.7 317.8 1603.2 318.6 1603.4 319.4 1602.7 320.1 1604.1 320.9 1603.4 321.7 1604.1 322.5 1602.6 323.3 1603.2 324.0 1604.5 324.8 1595.7 325.6 1572.2 326.4 1603.7 327.2 1553.5 327.9 1575.2 328.7 1544.6 329.5 1575.7 330.3 1624.2 331.1 1564.0 331.8 1542.5 332.6 1577.2 333.4 1598.7 334.2 1606.4 335.0 1546.7 335.7 1565.5 336.5 1604.2 337.3 1582.1 338.1 1592.3 338.9 1546.4 339.6 1573.7 340.4 1576.5 341.2 1600.3 342.0 1544.0 342.8 1592.1 343.5 1564.8 344.3 1550.9 345.1 1591.4 345.9 1562.6 346.7 1589.7 347.4 1565.9 348.2 1554.0 349.0 1573.2 349.8 1601.1 350.6 1598.9 351.3 1600.5 352.1 1555.1 352.9 1569.6 353.7 1544.2 354.5 1562.5 355.2 1581.7 356.0 1596.4 356.8 1569.4 357.6 1605.9 358.4 1578.7 359.1 1550.1 359.9 1593.1 360.7 1606.3 361.5 1543.8 362.3 1575.4 363.0 1594.8 363.8 1602.2 364.6 1567.3 365.4 1552.9 366.2 1576.9 366.9 1546.9 367.7 1592.7 368.5 1606.9 369.3 1625.1 370.1 1599.0 370.8 1560.4 371.6 1553.4 372.4 1552.7 373.2 1613.3 374.0 1549.5 374.7 1590.2 375.5 1577.2 376.3 1610.8 377.1 1547.0 377.9 1590.8 378.6 1554.0 379.4 1608.9 380.2 1574.8 381.0 1582.8 381.8 1575.4 382.5 1582.4 383.3 1552.7 384.1 1606.4 384.9 1548.9 385.7 1586.1 386.4 1564.8 387.2 1613.0 388.0 1560.1 388.8 1560.9 389.6 1574.1 390.3 1599.2 391.1 1569.7 391.9 1588.8 392.7 1589.4 393.5 1541.7 394.2 1550.5 395.0 1576.9 395.8 1586.5 396.6 1569.5 397.4 1571.2 398.1 1565.6 398.9 1546.0 399.7 1597.4 400.5 1572.7 401.3 1556.2 402.0 1582.9 402.8 1549.5 403.6 1550.7 404.4 1573.1 405.2 1591.9 405.9 1537.5 406.7 1558.4 407.5 1569.4 408.3 1546.9 409.1 1585.4 409.8 1539.2 410.6 1544.7 411.4 1584.4 412.2 1573.4 413.0 1561.3 413.7 1594.7 414.5 1544.0 415.3 1570.6 416.1 1553.2 416.9 1580.5 417.6 1532.4 418.4 1577.8 419.2 1563.1 420.0 1559.9 420.8 1582.9 421.5 1543.0 422.3 1560.5 423.1 1583.1 423.9 1555.7 424.7 1535.9 425.4 1553.4 426.2 1585.0 427.0 1564.6 427.8 1543.9 428.6 1553.5 429.3 1565.0 430.1 1542.8 430.9 1587.8 431.7 1554.5 432.5 1530.7 433.2 1583.9 434.0 1569.9 434.8 1534.2 435.6 1581.9 436.4 1573.0 437.1 1558.3 437.9 1549.8 438.7 1542.0 439.5 1570.1 440.3 1584.7 441.0 1546.8 441.8 1537.5 442.6 1580.4 443.4 1574.2 444.2 1575.4 444.9 1541.2 445.7 1553.5 446.5 1552.7 447.3 1570.8 448.1 1551.2 448.8 1526.3 449.6 1536.7 450.4 1570.9 451.2 1543.9 452.0 1565.7 452.7 1511.6 453.5 1519.3 454.3 1569.9 455.1 1550.9 455.9 1532.5 456.6 1522.6 457.4 1571.1 458.2 1536.7 459.0 1577.5 459.8 1510.6 460.5 1536.7 461.3 1554.4 462.1 1569.3 462.9 1545.5 463.7 1516.8 464.4 1547.0 465.2 1576.9 466.0 1528.8 466.8 1518.8 467.6 1549.4 468.3 1578.2 469.1 1536.6 469.9 1564.6 470.7 1504.0 471.5 1530.3 472.2 1514.6 473.0 1517.9 473.8 1543.5 474.6 1570.3 475.4 1488.2 476.1 1565.6 476.9 1522.6 477.7 1541.7 478.5 1526.7 479.3 1504.1 480.0 1563.4 480.8 1536.9 481.6 1525.5 482.4 1498.8 483.2 1550.0 483.9 1498.1 484.7 1562.4 485.5 1481.1 486.3 1529.2 487.1 1535.7 487.8 1539.9 488.6 1525.2 489.4 1564.0 490.2 1484.8 491.0 1565.7 491.7 1525.5 492.5 1509.4 493.3 1550.9 494.1 1534.3 494.9 1576.7 495.6 1487.0 496.4 1517.1 497.2 1530.1 498.0 1560.2 498.8 1494.7 499.5 1516.8 500.3 1505.4 501.1 1549.9 501.9 1481.1 502.7 1562.2 503.4 1548.9 504.2 1500.0 505.0 1554.1 505.8 1512.5 506.6 1515.6 507.3 1527.7 508.1 1562.8 508.9 1502.5 509.7 1552.3 510.5 1522.5 511.2 1486.3 512.0 1550.2 512.8 1503.4 513.6 1545.0 514.4 1539.2 515.1 1511.1 515.9 1523.4 516.7 1539.5 517.5 1486.5 518.3 1543.7 519.0 1515.1 519.8 1488.1 520.6 1547.9 521.4 1544.1 522.2 1552.9 522.9 1537.5 523.7 1488.9 524.5 1521.4 525.3 1550.4 526.1 1543.7 526.8 1491.3 527.6 1508.5 528.4 1515.3 529.2 1546.8 530.0 1495.9 530.7 1542.0 531.5 1522.2 532.3 1525.5 533.1 1542.2 533.9 1492.0 534.6 1524.7 535.4 1516.2 536.2 1535.1 537.0 1493.9 537.8 1541.0 538.5 1492.4 539.3 1534.6 540.1 1501.5 540.9 1536.6 541.7 1536.0 542.4 1512.7 543.2 1495.6 544.0 1511.5 544.8 1493.5 545.6 1548.0 546.3 1552.2 547.1 1547.2 547.9 1493.0 548.7 1520.3 549.5 1499.0 550.2 1524.4 551.0 1478.8 551.8 1530.6 552.6 1511.7 553.4 1541.6 554.1 1499.8 554.9 1475.6 555.7 1524.0 556.5 1501.7 557.3 1521.6 558.0 1485.2 558.8 1530.0 559.6 1482.9 560.4 1496.5 561.2 1514.0 561.9 1543.3 562.7 1505.0 563.5 1507.8 564.3 1487.7 565.1 1542.9 565.8 1532.7 566.6 1502.5 567.4 1512.3 568.2 1479.4 569.0 1471.7 569.7 1491.4 570.5 1516.1 571.3 1526.7 572.1 1488.4 572.9 1516.5 573.6 1482.6 574.4 1534.3 575.2 1527.7 576.0 1483.2 576.8 1510.5 577.5 1491.3 578.3 1492.8 579.1 1528.3 579.9 1468.1 580.7 1509.6 581.4 1481.2 582.2 1521.6 583.0 1465.8 583.8 1524.4 584.6 1509.0 585.3 1519.8 586.1 1467.6 586.9 1481.4 587.7 1522.1 588.5 1471.2 589.2 1468.4 590.0 1501.0 590.8 1438.1 591.6 1494.5 592.4 1516.0 593.1 1476.8 593.9 1482.1 594.7 1505.5 595.5 1494.9 596.3 1467.8 597.0 1509.3 597.8 1494.1 598.6 1464.1 599.4 1472.8 600.2 1475.0 600.9 1510.9 601.7 1454.4 602.5 1487.9 603.3 1500.7 604.1 1446.3 604.8 1516.5 605.6 1477.9 606.4 1495.9 607.2 1505.8 608.0 1478.9 608.7 1460.8 609.5 1492.1 610.3 1508.1 611.1 1475.9 611.9 1465.7 612.6 1473.3 613.4 1493.0 614.2 1505.4 615.0 1455.9 615.8 1465.5 616.5 1479.9 617.3 1488.7 618.1 1498.7 618.9 1483.5 619.7 1463.2 620.4 1477.2 621.2 1493.2 622.0 1504.1 622.8 1461.5 623.6 1482.7 624.3 1490.6 625.1 1460.6 625.9 1473.3 626.7 1506.2 627.5 1491.2 628.2 1498.1 629.0 1491.8 629.8 1474.6 630.6 1458.6 631.4 1488.6 632.1 1513.2 632.9 1469.8 633.7 1452.5 634.5 1463.8 635.3 1455.0 636.0 1507.2 636.8 1492.4 637.6 1472.9 638.4 1463.5 639.2 1499.5 639.9 1437.8 640.7 1432.7 641.5 1470.4 642.3 1491.7 643.1 1497.7 643.8 1439.6 644.6 1513.8 645.4 1464.5 646.2 1461.9 647.0 1445.6 647.7 1439.5 648.5 1517.6 649.3 1477.7 650.1 1508.0 650.9 1419.3 651.6 1496.3 652.4 1447.7 653.2 1431.2 654.0 1495.7 654.8 1468.6 655.5 1507.3 656.3 1455.9 657.1 1533.8 657.9 1413.0 658.7 1478.0 659.4 1481.9 660.2 1454.6 661.0 1435.9 661.8 1493.2 662.6 1488.7 663.3 1498.9 664.1 1430.0 664.9 1454.5 665.7 1457.3 666.5 1432.3 667.2 1463.3 668.0 1509.0 668.8 1455.7 669.6 1521.6 670.4 1471.7 671.1 1424.9 671.9 1440.7 672.7 1504.7 673.5 1477.9 674.3 1446.2 675.0 1425.1 675.8 1468.6 676.6 1463.8 677.4 1508.6 678.2 1519.7 678.9 1473.5 679.7 1440.5 680.5 1441.2 681.3 1510.6 682.1 1467.8 682.8 1490.2 683.6 1419.9 684.4 1468.3 685.2 1464.6 686.0 1517.6 686.7 1403.7 687.5 1479.7 688.3 1505.0 689.1 1446.3 689.9 1429.8 690.6 1434.6 691.4 1462.4 692.2 1480.6 693.0 1508.0 693.8 1440.8 694.5 1435.3 695.3 1490.4 696.1 1511.0 696.9 1453.8 697.7 1508.8 698.4 1487.3 699.2 1411.3 700.0 1425.3 700.8 1507.7 701.6 1481.5 702.3 1468.9 703.1 1437.1 703.9 1436.9 704.7 1499.5 705.5 1512.9 706.2 1451.0 707.0 1439.2 707.8 1478.0 708.6 1503.0 709.4 1448.9 710.1 1437.3 710.9 1489.9 711.7 1513.2 712.5 1434.8 713.3 1509.2 714.0 1474.9 714.8 1489.3 715.6 1501.4 716.4 1455.1 717.2 1437.6 717.9 1489.3 718.7 1498.8 719.5 1436.5 720.3 1454.8 721.1 1509.3 721.8 1447.4 722.6 1513.9 723.4 1470.2 724.2 1486.7 725.0 1522.0 725.7 1459.1 726.5 1491.4 727.3 1437.3 728.1 1470.6 728.9 1436.0 729.6 1442.9 730.4 1517.0 731.2 1488.8 732.0 1474.7 732.8 1503.0 733.5 1432.8 734.3 1512.8 735.1 1443.1 735.9 1495.8 736.7 1454.9 737.4 1468.3 738.2 1433.7 739.0 1496.0 739.8 1517.1 740.6 1521.6 741.3 1464.7 742.1 1446.1 742.9 1518.5 743.7 1490.6 744.5 1475.7 745.2 1444.2 746.0 1546.3 746.8 1469.6 747.6 1434.3 748.4 1494.8 749.1 1502.0 749.9 1502.0 750.7 1443.0 751.5 1481.8 752.3 1463.7 753.0 1435.5 753.8 1439.9 754.6 1501.2 755.4 1498.2 756.2 1460.7 756.9 1468.3 757.7 1527.7 758.5 1491.5 759.3 1448.5 760.1 1484.1 760.8 1529.5 761.6 1479.9 762.4 1492.2 763.2 1448.7 764.0 1512.4 764.7 1458.9 765.5 1456.2 766.3 1529.2 767.1 1475.6 767.9 1502.3 768.6 1462.6 769.4 1519.7 770.2 1493.6 771.0 1472.5 771.8 1478.4 772.5 1453.4 773.3 1522.8 774.1 1500.0 774.9 1488.7 775.7 1521.3 776.4 1470.1 777.2 1478.3 778.0 1453.2 778.8 1473.1 779.6 1497.0 780.3 1530.6 781.1 1528.6 781.9 1454.8 782.7 1511.5 783.5 1489.3 784.2 1473.9 785.0 1504.7 785.8 1472.3 786.6 1518.5 787.4 1528.0 788.1 1478.9 788.9 1506.7 789.7 1449.1 790.5 1497.5 791.3 1474.0 792.0 1492.2 792.8 1533.0 793.6 1511.5 794.4 1520.4 795.2 1498.6 795.9 1459.9 796.7 1527.3 797.5 1463.1 798.3 1489.8 799.1 1503.4 799.8 1526.1 800.6 1501.9 801.4 1477.8 802.2 1538.1 803.0 1535.4 803.7 1472.5 804.5 1484.0 805.3 1509.2 806.1 1541.3 806.9 1480.7 807.6 1502.1 808.4 1511.6 809.2 1513.9 810.0 1478.9 810.8 1544.4 811.5 1495.4 812.3 1536.8 813.1 1490.7 813.9 1501.8 814.7 1505.2 815.4 1524.9 816.2 1520.4 817.0 1476.9 817.8 1509.0 818.6 1528.0 819.3 1511.3 820.1 1487.9 820.9 1494.9 821.7 1501.0 822.5 1541.4 823.2 1539.8 824.0 1467.5 824.8 1481.2 825.6 1512.9 826.4 1541.1 827.1 1505.6 827.9 1491.1 828.7 1515.8 829.5 1494.2 830.3 1545.4 831.0 1490.8 831.8 1501.4 832.6 1539.3 833.4 1517.7 834.2 1479.8 834.9 1490.4 835.7 1540.4 836.5 1529.4 837.3 1536.9 838.1 1477.0 838.8 1521.0 839.6 1515.7 840.4 1486.9 841.2 1542.2 842.0 1532.4 842.7 1510.6 843.5 1525.7 844.3 1483.3 845.1 1502.4 845.9 1543.6 846.6 1547.2 847.4 1526.0 848.2 1517.5 849.0 1477.9 849.8 1519.5 850.5 1545.4 851.3 1478.6 852.1 1509.6 852.9 1508.4 853.7 1551.0 854.4 1491.1 855.2 1528.4 856.0 1513.8 856.8 1525.0 857.6 1499.4 858.3 1551.7 859.1 1547.6 859.9 1543.8 860.7 1521.8 861.5 1486.4 862.2 1505.9 863.0 1499.5 863.8 1556.2 864.6 1538.1 865.4 1517.3 866.1 1555.8 866.9 1491.3 867.7 1495.7 868.5 1482.0 869.3 1505.5 870.0 1547.0 870.8 1550.1 871.6 1515.8 872.4 1521.8 873.2 1548.1 873.9 1493.8 874.7 1493.9 875.5 1548.8 876.3 1523.1 877.1 1527.9 877.8 1520.4 878.6 1543.1 879.4 1536.4 880.2 1501.2 881.0 1513.7 881.7 1542.8 882.5 1552.0 883.3 1504.8 884.1 1533.3 884.9 1514.1 885.6 1523.1 886.4 1546.5 887.2 1523.5 888.0 1552.8 888.8 1537.4 889.5 1495.1 890.3 1546.3 891.1 1507.2 891.9 1559.9 892.7 1516.2 893.4 1540.6 894.2 1527.7 895.0 1506.0 895.8 1566.4 896.6 1494.3 897.3 1550.3 898.1 1549.3 898.9 1503.6 899.7 1509.6 900.5 1564.0 901.2 1555.1 902.0 1521.1 902.8 1576.5 903.6 1501.9 904.4 1527.4 905.1 1550.5 905.9 1533.9 906.7 1516.9 907.5 1570.6 908.3 1552.4 909.0 1520.7 909.8 1548.1 910.6 1515.2 911.4 1558.9 912.2 1528.6 912.9 1512.0 913.7 1576.0 914.5 1556.2 915.3 1502.3 916.1 1533.8 916.8 1577.5 917.6 1559.5 918.4 1514.3 919.2 1523.3 920.0 1545.4 920.7 1576.5 921.5 1551.2 922.3 1510.0 923.1 1533.8 923.9 1574.3 924.6 1575.8 925.4 1534.3 926.2 1520.7 927.0 1546.8 927.8 1552.8 928.5 1548.5 929.3 1585.5 930.1 1524.7 930.9 1586.6 931.7 1546.4 932.4 1528.2 933.2 1561.1 934.0 1557.7 934.8 1512.5 935.6 1585.5 936.3 1543.3 937.1 1540.9 937.9 1568.2 938.7 1572.4 939.5 1515.2 940.2 1538.8 941.0 1561.2 941.8 1591.9 942.6 1528.1 943.4 1547.7 944.1 1576.3 944.9 1581.8 945.7 1526.2 946.5 1550.1 947.3 1517.2 948.0 1585.2 948.8 1562.2 949.6 1581.0 950.4 1561.7 951.2 1521.4 951.9 1553.3 952.7 1561.7 953.5 1517.8 954.3 1590.9 955.1 1561.0 955.8 1552.7 956.6 1514.4 957.4 1579.2 958.2 1556.1 959.0 1540.9 959.7 1575.2 960.5 1586.7 961.3 1534.8 962.1 1532.9 962.9 1562.4 963.6 1541.4 964.4 1584.5 965.2 1569.2 966.0 1536.4 966.8 1547.7 967.5 1595.1 968.3 1592.2 969.1 1532.6 969.9 1542.1 970.7 1571.4 971.4 1561.3 972.2 1536.1 973.0 1553.3 973.8 1597.8 974.6 1569.5 975.3 1553.8 976.1 1530.5 976.9 1579.0 977.7 1565.6 978.5 1561.6 979.2 1528.4 980.0 1588.7 980.8 1539.1 981.6 1550.2 982.4 1578.9 983.1 1598.8 983.9 1598.6 984.7 1595.8 985.5 1561.7 986.3 1545.4 987.0 1553.6 987.8 1595.8 988.6 1534.2 989.4 1580.1 990.2 1590.8 990.9 1577.5 991.7 1529.9 992.5 1558.7 993.3 1546.4 994.1 1576.4 994.8 1539.7 995.6 1593.0 996.4 1591.2 997.2 1555.6 998.0 1542.6 998.7 1594.3 999.5 1570.6 1000.3 1545.9 1001.1 1597.2 1001.9 1568.8 1002.6 1582.2 1003.4 1530.2 1004.2 1556.9 1005.0 1570.7 1005.8 1597.1 1006.5 1536.2 1007.3 1576.8 1008.1 1555.6 1008.9 1547.2 1009.7 1562.3 1010.4 1580.2 1011.2 1590.9 1012.0 1570.7 1012.8 1576.4 1013.6 1596.2 1014.3 1550.2 1015.1 1581.3 1015.9 1605.2 1016.7 1544.5 1017.5 1562.8 1018.2 1569.2 1019.0 1563.4 1019.8 1532.7 1020.6 1608.9 1021.4 1590.6 1022.1 1603.1 1022.9 1538.7 1023.7 1566.8 1024.5 1550.0 1025.3 1606.2 1026.0 1600.8 1026.8 1557.2 1027.6 1553.7 1028.4 1600.9 1029.2 1584.0 1029.9 1578.5 1030.7 1554.6 1031.5 1613.1 1032.3 1574.9 1033.1 1577.5 1033.8 1603.9 1034.6 1556.9 1035.4 1593.3 1036.2 1565.5 1037.0 1591.0 1037.7 1595.8 1038.5 1572.1 1039.3 1553.8 1040.1 1587.6 1040.9 1616.8 1041.6 1548.6 1042.4 1589.5 1043.2 1553.2 1044.0 1595.9 1044.8 1580.1 1045.5 1607.2 1046.3 1549.6 1047.1 1587.8 1047.9 1565.4 1048.7 1607.5 1049.4 1580.0 1050.2 1586.3 1051.0 1608.9 1051.8 1568.9 1052.6 1597.6 1053.3 1570.5 1054.1 1620.2 1054.9 1558.3 1055.7 1591.6 1056.5 1571.2 1057.2 1609.8 1058.0 1561.0 1058.8 1560.5 1059.6 1616.7 1060.4 1598.2 1061.1 1573.9 1061.9 1582.9 1062.7 1592.2 1063.5 1609.5 1064.3 1555.5 1065.0 1603.9 1065.8 1553.1 1066.6 1584.0 1067.4 1617.1 1068.2 1573.8 1068.9 1601.4 1069.7 1589.5 1070.5 1609.6 1071.3 1580.9 1072.1 1619.2 1072.8 1561.6 1073.6 1597.8 1074.4 1567.4 1075.2 1587.0 1076.0 1608.2 1076.7 1596.6 1077.5 1584.9 1078.3 1571.1 1079.1 1612.6 1079.9 1599.0 1080.6 1570.1 1081.4 1579.6 1082.2 1632.6 1083.0 1604.5 1083.8 1584.0 1084.5 1592.7 1085.3 1633.1 1086.1 1602.3 1086.9 1575.9 1087.7 1621.9 1088.4 1610.6 1089.2 1585.9 1090.0 1614.8 1090.8 1591.5 1091.6 1572.1 1092.3 1618.9 1093.1 1625.6 1093.9 1594.9 1094.7 1577.4 1095.5 1609.8 1096.2 1588.9 1097.0 1630.3 1097.8 1575.8 1098.6 1602.5 1099.4 1588.5 1100.1 1579.8 1100.9 1639.5 1101.7 1620.3 1102.5 1583.7 1103.3 1605.5 1104.0 1613.9 1104.8 1625.7 1105.6 1586.7 1106.4 1586.8 1107.2 1614.6 1107.9 1626.1 1108.7 1648.0 1109.5 1595.0 1110.3 1569.7 1111.1 1621.5 1111.8 1582.6 1112.6 1638.9 1113.4 1584.6 1114.2 1618.2 1115.0 1615.2 1115.7 1594.5 1116.5 1581.0 1117.3 1640.5 1118.1 1583.8 1118.9 1608.7 1119.6 1616.4 1120.4 1631.1 1121.2 1630.3 1122.0 1602.5 1122.8 1613.6 1123.5 1574.9 1124.3 1635.5 1125.1 1582.6 1125.9 1613.3 1126.7 1587.7 1127.4 1641.1 1128.2 1587.2 1129.0 1612.5 1129.8 1595.8 1130.6 1607.0 1131.3 1634.3 1132.1 1587.0 1132.9 1625.9 1133.7 1584.6 1134.5 1608.4 1135.2 1597.1 1136.0 1638.6 1136.8 1616.5 1137.6 1579.7 1138.4 1602.8 1139.1 1642.0 1139.9 1613.9 1140.7 1592.9 1141.5 1636.9 1142.3 1609.7 1143.0 1612.2 1143.8 1634.6 1144.6 1592.1 1145.4 1617.0 1146.2 1629.3 1146.9 1606.8 1147.7 1624.0 1148.5 1575.6 1149.3 1609.1 1150.1 1639.5 1150.8 1622.8 1151.6 1565.5 1152.4 1583.9 1153.2 1614.1 1154.0 1601.6 1154.7 1646.6 1155.5 1599.1 1156.3 1623.7 1157.1 1591.3 1157.9 1634.7 1158.6 1613.0 1159.4 1586.2 1160.2 1622.9 1161.0 1635.7 1161.8 1572.1 1162.5 1632.0 1163.3 1638.9 1164.1 1602.4 1164.9 1590.3 1165.7 1643.6 1166.4 1609.1 1167.2 1607.1 1168.0 1623.1 1168.8 1637.3 1169.6 1602.0 1170.3 1597.0 1171.1 1630.7 1171.9 1635.7 1172.7 1613.2 1173.5 1600.9 1174.2 1585.8 1175.0 1651.8 1175.8 1608.0 1176.6 1630.0 1177.4 1642.1 1178.1 1618.7 1178.9 1593.9 1179.7 1608.0 1180.5 1603.9 1181.3 1647.4 1182.0 1615.8 1182.8 1616.5 1183.6 1606.7 1184.4 1633.9 1185.2 1621.7 1185.9 1599.5 1186.7 1619.5 1187.5 1615.4 1188.3 1642.5 1189.1 1591.1 1189.8 1621.0 1190.6 1642.8 1191.4 1607.7 1192.2 1589.9 1193.0 1623.4 1193.7 1611.1 1194.5 1596.2 1195.3 1646.9 1196.1 1620.9 1196.9 1600.8 1197.6 1598.2 1198.4 1636.8 1199.2 1636.1 1200.0 1624.5 1200.8 1612.6 1201.5 1599.1 1202.3 1626.0 1203.1 1636.5 1203.9 1599.3 1204.7 1610.5 1205.4 1596.0 1206.2 1626.1 1207.0 1635.3 1207.8 1607.0 1208.6 1637.6 1209.3 1615.6 1210.1 1627.0 1210.9 1596.2 1211.7 1623.7 1212.5 1612.9 1213.2 1640.3 1214.0 1599.9 1214.8 1607.9 1215.6 1596.2 1216.4 1623.2 1217.1 1643.7 1217.9 1634.3 1218.7 1606.9 1219.5 1595.0 1220.3 1649.6 1221.0 1643.1 1221.8 1600.4 1222.6 1605.8 1223.4 1629.7 1224.2 1602.2 1224.9 1632.6 1225.7 1605.5 1226.5 1642.8 1227.3 1612.2 1228.1 1616.0 1228.8 1630.3 1229.6 1644.4 1230.4 1630.3 1231.2 1618.5 1232.0 1638.5 1232.7 1607.7 1233.5 1608.4 1234.3 1651.8 1235.1 1624.2 1235.9 1617.3 1236.6 1624.6 1237.4 1624.7 1238.2 1606.5 1239.0 1652.9 1239.8 1632.9 1240.5 1661.9 1241.3 1611.7 1242.1 1619.3 1242.9 1628.1 1243.7 1608.2 1244.4 1631.1 1245.2 1655.1 1246.0 1634.1 1246.8 1622.2 1247.6 1601.2 1248.3 1667.8 1249.1 1652.2 1249.9 1609.0 1250.7 1627.3 1251.5 1631.6 1252.2 1638.2 1253.0 1624.3 1253.8 1617.4 1254.6 1644.9 1255.4 1656.6 1256.1 1620.1 1256.9 1641.9 1257.7 1616.1 1258.5 1616.9 1259.3 1623.8 1260.0 1652.7 1260.8 1638.9 1261.6 1628.5 1262.4 1613.4 1263.2 1652.0 1263.9 1637.3 1264.7 1640.0 1265.5 1622.5 1266.3 1629.4 1267.1 1639.7 1267.8 1651.0 1268.6 1616.9 1269.4 1634.5 1270.2 1615.6 1271.0 1622.3 1271.7 1609.0 1272.5 1643.1 1273.3 1647.0 1274.1 1609.7 1274.9 1650.6 1275.6 1629.2 1276.4 1640.5 1277.2 1622.7 1278.0 1623.1 1278.8 1644.5 1279.5 1639.0 1280.3 1651.4 1281.1 1615.7 1281.9 1641.2 1282.7 1623.1 1283.4 1638.0 1284.2 1614.7 1285.0 1635.0 1285.8 1653.8 1286.6 1640.0 1287.3 1616.6 1288.1 1630.3 1288.9 1646.2 1289.7 1645.0 1290.5 1615.4 1291.2 1654.2 1292.0 1635.5 1292.8 1648.3 1293.6 1640.3 1294.4 1634.8 1295.1 1611.9 1295.9 1650.8 1296.7 1615.4 1297.5 1632.6 1298.3 1633.6 1299.0 1637.1 1299.8 1648.1 1300.6 1617.3 1301.4 1635.0 1302.2 1655.2 1302.9 1637.3 1303.7 1633.0 1304.5 1607.7 1305.3 1644.7 1306.1 1613.2 1306.8 1641.9 1307.6 1628.6 1308.4 1641.2 1309.2 1626.6 1310.0 1650.6 1310.7 1617.6 1311.5 1616.9 1312.3 1636.4 1313.1 1648.2 1313.9 1626.0 1314.6 1654.1 1315.4 1621.3 1316.2 1613.9 1317.0 1645.7 1317.8 1622.0 1318.5 1626.4 1319.3 1649.6 1320.1 1633.0 1320.9 1610.6 1321.7 1628.4 1322.4 1650.4 1323.2 1635.9 1324.0 1644.8 1324.8 1617.5 1325.6 1630.1 1326.3 1640.7 1327.1 1621.7 1327.9 1632.9 1328.7 1652.5 1329.5 1626.5 1330.2 1648.4 1331.0 1637.0 1331.8 1634.2 1332.6 1611.3 1333.4 1643.0 1334.1 1637.6 1334.9 1613.0 1335.7 1626.4 1336.5 1650.0 1337.3 1633.4 1338.0 1621.7 1338.8 1628.1 1339.6 1647.3 1340.4 1642.0 1341.2 1611.9 1341.9 1629.6 1342.7 1632.5 1343.5 1646.7 1344.3 1618.6 1345.1 1632.9 1345.8 1614.9 1346.6 1659.5 1347.4 1632.2 1348.2 1631.1 1349.0 1636.4 1349.7 1615.9 1350.5 1621.8 1351.3 1652.4 1352.1 1652.2 1352.9 1632.4 1353.6 1619.6 1354.4 1635.4 1355.2 1630.3 1356.0 1632.8 1356.8 1605.3 1357.5 1656.3 1358.3 1650.9 1359.1 1627.6 1359.9 1643.4 1360.7 1619.2 1361.4 1622.6 1362.2 1650.9 1363.0 1620.2 1363.8 1632.7 1364.6 1633.6 1365.3 1649.7 1366.1 1626.0 1366.9 1617.1 1367.7 1641.7 1368.5 1627.3 1369.2 1650.8 1370.0 1614.9 1370.8 1648.3 1371.6 1618.3 1372.4 1644.9 1373.1 1623.5 1373.9 1609.4 1374.7 1640.2 1375.5 1655.9 1376.3 1629.2 1377.0 1641.1 1377.8 1628.3 1378.6 1646.3 1379.4 1619.8 1380.2 1650.8 1380.9 1644.4 1381.7 1634.8 1382.5 1622.1 1383.3 1626.4 1384.1 1620.0 1384.8 1634.1 1385.6 1648.7 1386.4 1619.9 1387.2 1648.6 1388.0 1636.0 1388.7 1624.9 1389.5 1641.7 1390.3 1629.8 1391.1 1651.3 1391.9 1618.9 1392.6 1642.1 1393.4 1652.2 1394.2 1621.2 1395.0 1626.8 1395.8 1634.4 1396.5 1620.2 1397.3 1645.7 1398.1 1634.6 1398.9 1625.1 1399.7 1641.0 1400.4 1626.2 1401.2 1650.7 1402.0 1656.6 1402.8 1618.9 1403.6 1629.8 1404.3 1642.7 1405.1 1621.1 1405.9 1641.4 1406.7 1646.3 1407.5 1626.9 1408.2 1646.7 1409.0 1619.1 1409.8 1643.0 1410.6 1631.7 1411.4 1630.5 1412.1 1622.2 1412.9 1641.4 1413.7 1650.1 1414.5 1633.8 1415.3 1618.8 1416.0 1652.3 1416.8 1644.1 1417.6 1628.5 1418.4 1641.0 1419.2 1646.3 1419.9 1633.5 1420.7 1647.8 1421.5 1620.1 1422.3 1642.2 1423.1 1629.7 1423.8 1653.3 1424.6 1644.2 1425.4 1629.1 1426.2 1616.0 1427.0 1638.8 1427.7 1647.7 1428.5 1642.0 1429.3 1624.1 1430.1 1655.2 1430.9 1632.0 1431.6 1626.6 1432.4 1624.8 1433.2 1654.4 1434.0 1642.0 1434.8 1631.1 1435.5 1621.6 1436.3 1646.2 1437.1 1619.6 1437.9 1637.1 1438.7 1629.4 1439.4 1642.5 1440.2 1633.5 1441.0 1624.7 1441.8 1654.1 1442.6 1648.4 1443.3 1620.0 1444.1 1650.1 1444.9 1631.8 1445.7 1620.0 1446.5 1653.2 1447.2 1632.3 1448.0 1636.9 1448.8 1636.6 1449.6 1620.5 1450.4 1638.4 1451.1 1654.3 1451.9 1645.1 1452.7 1651.7 1453.5 1631.0 1454.3 1620.1 1455.0 1622.1 1455.8 1632.7 1456.6 1640.5 1457.4 1649.0 1458.2 1622.7 1458.9 1634.3 1459.7 1645.8 1460.5 1641.1 1461.3 1639.3 1462.1 1655.0 1462.8 1631.7 1463.6 1627.6 1464.4 1624.7 1465.2 1633.7 1466.0 1651.7 1466.7 1641.8 1467.5 1650.8 1468.3 1621.7 1469.1 1633.1 1469.9 1643.4 1470.6 1631.1 1471.4 1652.4 1472.2 1644.6 1473.0 1617.8 1473.8 1649.3 1474.5 1628.5 1475.3 1638.0 1476.1 1624.9 1476.9 1631.0 1477.7 1638.1 1478.4 1620.3 1479.2 1654.4 1480.0 1646.4 1480.8 1641.3 1481.6 1623.3 1482.3 1625.8 1483.1 1638.1 1483.9 1652.9 1484.7 1624.3 1485.5 1632.9 1486.2 1653.1 1487.0 1629.2 1487.8 1633.5 1488.6 1643.2 1489.4 1644.9 1490.1 1648.2 1490.9 1621.7 1491.7 1633.4 1492.5 1620.0 1493.3 1642.4 1494.0 1624.9 1494.8 1655.8 1495.6 1645.0 1496.4 1630.4 1497.2 1622.3 1497.9 1649.1 1498.7 1638.9 1499.5 1621.2 1500.3 1636.9 1501.1 1651.4 1501.8 1651.6 1502.6 1654.8 1503.4 1632.8 1504.2 1625.7 1505.0 1642.6 1505.7 1653.1 1506.5 1620.4 1507.3 1637.1 1508.1 1646.2 1508.9 1647.3 1509.6 1629.0 1510.4 1625.2 1511.2 1642.0 1512.0 1656.1 1512.8 1632.0 1513.5 1627.4 1514.3 1651.8 1515.1 1636.3 1515.9 1632.0 1516.7 1626.1 1517.4 1644.1 1518.2 1647.9 1519.0 1627.0 1519.8 1634.3 1520.6 1653.1 1521.3 1631.6 1522.1 1621.1 1522.9 1646.5 1523.7 1642.0 1524.5 1654.5 1525.2 1631.3 1526.0 1625.6 1526.8 1628.5 1527.6 1646.2 1528.4 1624.7 1529.1 1646.5 1529.9 1636.9 1530.7 1649.8 1531.5 1629.7 1532.3 1641.3 1533.0 1631.3 1533.8 1625.7 1534.6 1652.8 1535.4 1654.8 1536.2 1654.0 1536.9 1628.1 1537.7 1630.7 1538.5 1641.7 1539.3 1626.7 1540.1 1641.0 1540.8 1654.5 1541.6 1632.0 1542.4 1650.5 1543.2 1638.5 1544.0 1632.3 1544.7 1621.9 1545.5 1636.7 1546.3 1647.0 1547.1 1627.5 1547.9 1643.0 1548.6 1651.2 1549.4 1622.7 1550.2 1644.4 1551.0 1633.4 1551.8 1632.9 1552.5 1645.5 1553.3 1625.3 1554.1 1647.0 1554.9 1629.6 1555.7 1654.3 1556.4 1630.2 1557.2 1644.1 1558.0 1653.3 1558.8 1646.5 1559.6 1622.3 1560.3 1634.3 1561.1 1649.9 1561.9 1634.4 1562.7 1641.0 1563.5 1623.2 1564.2 1641.8 1565.0 1629.5 1565.8 1622.9 1566.6 1651.6 1567.4 1638.5 1568.1 1643.0 1568.9 1656.8 1569.7 1629.7 1570.5 1653.1 1571.3 1633.1 1572.0 1622.2 1572.8 1641.6 1573.6 1625.0 1574.4 1639.2 1575.2 1660.2 1575.9 1641.4 1576.7 1639.3 1577.5 1628.1 1578.3 1646.9 1579.1 1625.4 1579.8 1621.6 1580.6 1644.4 1581.4 1654.5 1582.2 1637.1 1583.0 1631.0 1583.7 1649.3 1584.5 1637.3 1585.3 1627.6 1586.1 1642.3 1586.9 1637.2 1587.6 1655.0 1588.4 1625.5 1589.2 1633.3 1590.0 1645.3 1590.8 1631.9 1591.5 1648.3 1592.3 1656.2 1593.1 1636.7 1593.9 1626.1 1594.7 1640.6 1595.4 1638.6 1596.2 1647.9 1597.0 1629.2 1597.8 1647.7 1598.6 1641.7 1599.3 1656.4 1600.1 1638.5 1600.9 1621.3 1601.7 1625.4 1602.5 1632.1 1603.2 1643.7 1604.0 1646.3 1604.8 1646.2 1605.6 1632.1 1606.4 1637.7 1607.1 1653.4 1607.9 1641.4 1608.7 1647.1 1609.5 1632.5 1610.3 1636.4 1611.0 1639.8 1611.8 1625.2 1612.6 1633.5 1613.4 1654.1 1614.2 1634.1 1614.9 1653.8 1615.7 1647.6 1616.5 1627.3 1617.3 1640.1 1618.1 1630.0 1618.8 1642.8 1619.6 1648.2 1620.4 1646.3 1621.2 1632.6 1622.0 1655.4 1622.7 1634.1 1623.5 1639.3 1624.3 1644.1 1625.1 1654.6 1625.9 1627.6 1626.6 1634.2 1627.4 1648.5 1628.2 1641.6 1629.0 1633.0 1629.8 1631.2 1630.5 1637.7 1631.3 1648.1 1632.1 1647.7 1632.9 1645.6 1633.7 1631.7 1634.4 1642.0 1635.2 1628.4 1636.0 1636.8 1636.8 1645.6 1637.6 1632.6 1638.3 1653.8 1639.1 1646.8 1639.9 1632.6 1640.7 1627.7 1641.5 1649.0 1642.2 1636.9 1643.0 1647.4 1643.8 1626.8 1644.6 1648.4 1645.4 1629.5 1646.1 1640.9 1646.9 1642.3 1647.7 1650.3 1648.5 1631.1 1649.3 1645.2 1650.0 1637.9 1650.8 1651.8 1651.6 1637.8 1652.4 1650.5 1653.2 1646.5 1653.9 1628.6 1654.7 1655.4 1655.5 1636.1 1656.3 1626.4 1657.1 1642.8 1657.8 1624.9 1658.6 1650.3 1659.4 1647.1 1660.2 1633.4 1661.0 1637.6 1661.7 1641.6 1662.5 1653.1 1663.3 1629.2 1664.1 1651.9 1664.9 1647.9 1665.6 1633.8 1666.4 1638.5 1667.2 1640.3 1668.0 1635.3 1668.8 1626.7 1669.5 1655.7 1670.3 1654.1 1671.1 1625.1 1671.9 1633.1 1672.7 1641.5 1673.4 1635.1 1674.2 1632.5 1675.0 1640.9 1675.8 1651.6 1676.6 1653.1 1677.3 1628.6 1678.1 1641.1 1678.9 1648.0 1679.7 1651.7 1680.5 1636.5 1681.2 1643.0 1682.0 1633.4 1682.8 1625.2 1683.6 1648.8 1684.4 1631.0 1685.1 1642.4 1685.9 1664.2 1686.7 1631.5 1687.5 1632.6 1688.3 1643.8 1689.0 1652.9 1689.8 1629.1 1690.6 1645.4 1691.4 1636.5 1692.2 1632.8 1692.9 1652.9 1693.7 1629.7 1694.5 1642.2 1695.3 1654.5 1696.1 1643.0 1696.8 1630.1 1697.6 1634.1 1698.4 1655.5 1699.2 1628.3 1700.0 1637.8 1700.7 1643.7 1701.5 1645.7 1702.3 1640.5 1703.1 1631.9 1703.9 1652.2 1704.6 1649.6 1705.4 1652.5 1706.2 1628.4 1707.0 1640.0 1707.8 1654.9 1708.5 1632.5 1709.3 1644.9 1710.1 1633.4 1710.9 1646.1 1711.7 1630.0 1712.4 1644.8 1713.2 1636.6 1714.0 1637.9 1714.8 1647.7 1715.6 1643.4 1716.3 1632.4 1717.1 1655.0 1717.9 1636.6 1718.7 1631.6 1719.5 1643.3 1720.2 1634.9 1721.0 1646.4 1721.8 1629.8 1722.6 1651.3 1723.4 1636.3 1724.1 1651.5 1724.9 1629.9 1725.7 1644.8 1726.5 1631.0 1727.3 1651.3 1728.0 1645.9 1728.8 1640.1 1729.6 1632.1 1730.4 1650.4 1731.2 1637.2 1731.9 1645.2 1732.7 1630.2 1733.5 1651.1 1734.3 1645.3 1735.1 1634.7 1735.8 1635.9 1736.6 1643.3 1737.4 1651.5 1738.2 1629.0 1739.0 1648.6 1739.7 1627.9 1740.5 1645.2 1741.3 1634.0 1742.1 1644.9 1742.9 1634.5 1743.6 1633.9 1744.4 1652.7 1745.2 1648.4 1746.0 1631.0 1746.8 1638.2 1747.5 1646.3 1748.3 1652.8 1749.1 1639.1 1749.9 1636.3 1750.7 1644.8 1751.4 1640.6 1752.2 1636.3 1753.0 1634.3 1753.8 1649.9 1754.6 1652.9 1755.3 1644.1 1756.1 1639.4 1756.9 1630.9 1757.7 1653.3 1758.5 1643.1 1759.2 1637.2 1760.0 1632.7 1760.8 1632.7 1761.6 1638.2 1762.4 1646.8 1763.1 1643.1 1763.9 1639.3 1764.7 1641.0 1765.5 1632.9 1766.3 1655.9 1767.0 1644.8 1767.8 1642.6 1768.6 1648.5 1769.4 1633.3 1770.2 1641.6 1770.9 1639.4 1771.7 1630.3 1772.5 1649.2 1773.3 1632.9 1774.1 1651.3 1774.8 1645.6 1775.6 1640.4 1776.4 1630.7 1777.2 1637.7 1778.0 1648.8 1778.7 1651.6 1779.5 1645.7 1780.3 1633.9 1781.1 1649.7 1781.9 1639.8 1782.6 1648.8 1783.4 1637.8 1784.2 1645.7 1785.0 1632.6 1785.8 1640.6 1786.5 1630.0 1787.3 1647.0 1788.1 1648.4 1788.9 1640.9 1789.7 1636.3 1790.4 1651.8 1791.2 1634.0 1792.0 1636.6 1792.8 1629.0 1793.6 1654.8 1794.3 1648.1 1795.1 1651.8 1795.9 1635.3 1796.7 1642.7 1797.5 1631.0 1798.2 1639.9 1799.0 1630.1 1799.8 1645.3 1800.6 1651.2 1801.4 1639.7 1802.1 1630.9 1802.9 1649.8 1803.7 1643.5 1804.5 1654.3 1805.3 1639.8 1806.0 1643.4 1806.8 1632.5 1807.6 1640.3 1808.4 1637.2 1809.2 1651.9 1809.9 1645.6 1810.7 1649.2 1811.5 1631.2 1812.3 1647.1 1813.1 1639.8 1813.8 1641.6 1814.6 1634.9 1815.4 1649.3 1816.2 1641.7 1817.0 1650.6 1817.7 1654.7 1818.5 1637.9 1819.3 1633.2 1820.1 1652.2 1820.9 1638.8 1821.6 1630.4 1822.4 1643.9 1823.2 1632.4 1824.0 1638.1 1824.8 1643.6 1825.5 1651.1 1826.3 1641.3 1827.1 1652.9 1827.9 1633.8 1828.7 1644.3 1829.4 1651.1 1830.2 1630.9 1831.0 1647.8 1831.8 1642.1 1832.6 1633.7 1833.3 1649.6 1834.1 1655.5 1834.9 1639.7 1835.7 1655.2 1836.5 1648.2 1837.2 1633.9 1838.0 1640.8 1838.8 1654.4 1839.6 1631.5 1840.4 1638.1 1841.1 1647.2 1841.9 1646.5 1842.7 1654.5 1843.5 1639.6 1844.3 1637.9 1845.0 1645.9 1845.8 1635.6 1846.6 1652.9 1847.4 1639.5 1848.2 1644.8 1848.9 1642.9 1849.7 1631.3 1850.5 1652.5 1851.3 1638.3 1852.1 1644.6 1852.8 1631.0 1853.6 1649.5 1854.4 1652.3 1855.2 1645.9 1856.0 1642.3 1856.7 1634.5 1857.5 1633.9 1858.3 1654.9 1859.1 1635.8 1859.9 1648.9 1860.6 1639.2 1861.4 1645.1 1862.2 1655.8 1863.0 1634.7 1863.8 1642.7 1864.5 1649.2 1865.3 1633.9 1866.1 1646.8 1866.9 1640.6 1867.7 1634.4 1868.4 1653.8 1869.2 1648.2 1870.0 1652.7 1870.8 1635.5 1871.6 1642.3 1872.3 1649.0 1873.1 1642.8 1873.9 1655.1 1874.7 1644.8 1875.5 1640.0 1876.2 1651.0 1877.0 1632.6 1877.8 1647.9 1878.6 1642.2 1879.4 1636.9 1880.1 1656.5 1880.9 1644.5 1881.7 1646.9 1882.5 1638.3 1883.3 1646.1 1884.0 1641.7 1884.8 1651.7 1885.6 1635.4 1886.4 1640.8 1887.2 1651.5 1887.9 1644.7 1888.7 1652.7 1889.5 1640.4 1890.3 1645.6 1891.1 1640.7 1891.8 1651.7 1892.6 1636.7 1893.4 1643.9 1894.2 1646.2 1895.0 1644.3 1895.7 1646.8 1896.5 1634.3 1897.3 1651.2 1898.1 1645.5 1898.9 1654.2 1899.6 1641.1 1900.4 1634.1 1901.2 1635.1 1902.0 1648.1 1902.8 1644.2 1903.5 1654.6 1904.3 1635.2 1905.1 1641.2 1905.9 1653.1 1906.7 1648.6 1907.4 1649.4 1908.2 1650.4 1909.0 1639.4 1909.8 1643.7 1910.6 1655.0 1911.3 1636.5 1912.1 1648.3 1912.9 1641.9 1913.7 1652.6 1914.5 1645.2 1915.2 1639.9 1916.0 1643.4 1916.8 1642.7 1917.6 1636.9 1918.4 1647.1 1919.1 1654.1 1919.9 1654.5 1920.7 1642.8 1921.5 1641.5 1922.3 1646.6 1923.0 1640.9 1923.8 1648.5 1924.6 1636.6 1925.4 1650.9 1926.2 1642.4 1926.9 1647.6 1927.7 1652.5 1928.5 1637.7 1929.3 1636.6 1930.1 1640.8 1930.8 1647.6 1931.6 1650.0 1932.4 1646.9 1933.2 1643.3 1934.0 1637.1 1934.7 1653.0 1935.5 1645.7 1936.3 1639.8 1937.1 1636.0 1937.9 1654.1 1938.6 1643.2 1939.4 1653.1 1940.2 1645.7 1941.0 1640.7 1941.8 1642.4 1942.5 1638.4 1943.3 1653.6 1944.1 1645.4 1944.9 1634.6 1945.7 1653.1 1946.4 1640.1 1947.2 1644.5 1948.0 1649.4 1948.8 1635.8 1949.6 1644.4 1950.3 1655.2 1951.1 1643.4 1951.9 1649.6 1952.7 1649.7 1953.5 1640.5 1954.2 1653.6 1955.0 1646.1 1955.8 1637.0 1956.6 1644.9 1957.4 1654.3 1958.1 1636.9 1958.9 1650.5 1959.7 1644.5 1960.5 1647.2 1961.3 1637.0 1962.0 1642.1 1962.8 1652.8 1963.6 1651.3 1964.4 1642.1 1965.2 1647.9 1965.9 1639.0 1966.7 1649.3 1967.5 1647.7 1968.3 1638.3 1969.1 1656.3 1969.8 1650.3 1970.6 1642.0 1971.4 1649.0 1972.2 1638.3 1973.0 1649.2 1973.7 1645.6 1974.5 1652.0 1975.3 1639.4 1976.1 1646.1 1976.9 1643.0 1977.6 1652.6 1978.4 1639.1 1979.2 1650.8 1980.0 1644.8 1980.8 1640.7 1981.5 1649.6 1982.3 1644.8 1983.1 1637.3 1983.9 1652.5 1984.7 1646.2 1985.4 1648.9 1986.2 1640.1 1987.0 1650.6 1987.8 1637.4 1988.6 1645.1 1989.3 1638.5 1990.1 1651.5 1990.9 1648.8 1991.7 1643.7 1992.5 1639.2 1993.2 1648.8 1994.0 1650.0 1994.8 1649.0 1995.6 1644.9 1996.4 1651.9 1997.1 1641.7 1997.9 1646.7 1998.7 1640.8 1999.5 1641.4 2000.3 1652.6 2001.0 1638.1 2001.8 1651.0 2002.6 1645.1 2003.4 1653.5 2004.2 1653.7 2004.9 1649.9 2005.7 1644.0 2006.5 1640.8 2007.3 1651.7 2008.1 1647.2 2008.8 1640.5 2009.6 1643.2 2010.4 1645.1 2011.2 1639.9 2012.0 1645.5 2012.7 1650.1 2013.5 1653.7 2014.3 1643.3 2015.1 1636.0 2015.9 1649.4 2016.6 1647.4 2017.4 1653.0 2018.2 1641.9 2019.0 1640.7 2019.8 1653.4 2020.5 1645.2 2021.3 1647.0 2022.1 1641.8 2022.9 1639.2 2023.7 1653.4 2024.4 1647.2 2025.2 1646.2 2026.0 1650.8 2026.8 1642.4 2027.6 1651.0 2028.3 1639.4 2029.1 1651.7 2029.9 1640.6 2030.7 1643.7 2031.5 1647.7 2032.2 1639.4 2033.0 1646.9 2033.8 1652.9 2034.6 1641.2 2035.4 1648.9 2036.1 1645.2 2036.9 1647.1 2037.7 1640.2 2038.5 1641.0 2039.3 1653.2 2040.0 1643.8 2040.8 1645.8 2041.6 1655.2 2042.4 1644.8 2043.2 1640.9 2043.9 1650.6 2044.7 1639.6 2045.5 1647.6 2046.3 1643.7 2047.1 1656.0 2047.8 1644.9 2048.6 1637.8 2049.4 1654.8 2050.2 1644.4 2051.0 1653.3 2051.7 1639.8 2052.5 1649.0 2053.3 1643.3 2054.1 1640.7 2054.9 1653.3 2055.6 1642.8 2056.4 1648.2 2057.2 1640.1 2058.0 1652.3 2058.8 1650.0 2059.5 1641.3 2060.3 1642.8 2061.1 1650.7 2061.9 1653.7 2062.7 1633.6 2063.4 1648.3 2064.2 1653.2 2065.0 1643.1 2065.8 1640.0 2066.6 1640.0 2067.3 1651.4 2068.1 1647.7 2068.9 1641.9 2069.7 1646.6 2070.5 1639.6 2071.2 1645.9 2072.0 1650.9 2072.8 1650.4 2073.6 1652.9 2074.4 1641.9 2075.1 1644.1 2075.9 1646.9 2076.7 1643.5 2077.5 1637.5 2078.3 1651.9 2079.0 1647.2 2079.8 1637.9 2080.6 1645.0 2081.4 1651.6 2082.2 1648.7 2082.9 1646.8 2083.7 1638.3 2084.5 1654.9 2085.3 1647.7 2086.1 1643.0 2086.8 1651.7 2087.6 1637.7 2088.4 1651.6 2089.2 1643.5 2090.0 1646.0 2090.7 1640.0 2091.5 1639.5 2092.3 1652.8 2093.1 1647.3 2093.9 1646.1 2094.6 1651.5 2095.4 1640.7 2096.2 1647.9 2097.0 1644.9 2097.8 1652.1 2098.5 1641.4 2099.3 1645.1 2100.1 1649.9 2100.9 1645.6 2101.7 1649.2 2102.4 1639.3 2103.2 1651.2 2104.0 1641.9 2104.8 1651.0 2105.6 1644.4 2106.3 1654.3 2107.1 1648.7 2107.9 1644.0 2108.7 1641.5 2109.5 1652.7 2110.2 1640.3 2111.0 1644.9 2111.8 1649.1 2112.6 1652.0 2113.4 1645.7 2114.1 1638.6 2114.9 1652.5 2115.7 1652.5 2116.5 1644.4 2117.3 1654.2 2118.0 1639.4 2118.8 1653.2 2119.6 1644.1 2120.4 1641.3 2121.2 1650.6 2121.9 1646.9 2122.7 1644.7 2123.5 1649.5 2124.3 1638.8 2125.1 1651.3 2125.8 1642.2 2126.6 1650.9 2127.4 1653.9 2128.2 1646.0 2129.0 1643.4 2129.7 1651.5 2130.5 1640.4 2131.3 1647.6 2132.1 1640.2 2132.9 1653.1 2133.6 1648.0 2134.4 1642.8 2135.2 1644.6 2136.0 1650.4 2136.8 1649.0 2137.5 1640.4 2138.3 1649.3 2139.1 1642.8 2139.9 1641.1 2140.7 1647.0 2141.4 1646.2 2142.2 1641.6 2143.0 1653.3 2143.8 1642.2 2144.6 1649.7 2145.3 1640.2 2146.1 1651.0 2146.9 1645.5 2147.7 1654.8 2148.5 1646.8 2149.2 1642.1 2150.0 1646.8 2150.8 1647.9 2151.6 1641.7 2152.4 1646.0 2153.1 1651.3 2153.9 1644.7 2154.7 1649.3 2155.5 1639.9 2156.3 1650.9 2157.0 1652.6 2157.8 1640.1 2158.6 1644.1 2159.4 1647.9 2160.2 1640.5 2160.9 1645.6 2161.7 1652.2 2162.5 1650.1 2163.3 1641.4 2164.1 1653.0 2164.8 1647.2 2165.6 1645.7 2166.4 1643.2 2167.2 1654.2 2168.0 1650.2 2168.7 1645.4 2169.5 1645.9 2170.3 1641.2 2171.1 1651.4 2171.9 1648.9 2172.6 1650.3 2173.4 1656.3 2174.2 1644.6 2175.0 1642.5 2175.8 1640.0 2176.5 1651.8 2177.3 1645.4 2178.1 1648.5 2178.9 1643.5 2179.7 1651.2 2180.4 1651.9 2181.2 1644.2 2182.0 1655.9 2182.8 1647.7 2183.6 1640.9 2184.3 1642.2 2185.1 1642.1 2185.9 1643.8 2186.7 1654.7 2187.5 1649.8 2188.2 1651.3 2189.0 1646.7 2189.8 1639.2 2190.6 1644.6 2191.4 1653.4 2192.1 1650.1 2192.9 1642.8 2193.7 1644.3 2194.5 1649.3 2195.3 1653.0 2196.0 1643.2 2196.8 1643.0 2197.6 1645.7 2198.4 1639.7 2199.2 1651.5 2199.9 1648.6 2200.7 1652.9 2201.5 1649.5 2202.3 1644.2 2203.1 1641.0 2203.8 1648.8 2204.6 1644.0 2205.4 1641.0 2206.2 1651.2 2207.0 1645.6 2207.7 1644.3 2208.5 1649.7 2209.3 1648.7 2210.1 1646.8 2210.9 1641.3 2211.6 1651.7 2212.4 1648.8 2213.2 1639.6 2214.0 1651.2 2214.8 1643.9 2215.5 1647.7 2216.3 1644.1 2217.1 1643.2 2217.9 1653.3 2218.7 1649.6 2219.4 1642.8 2220.2 1649.6 2221.0 1651.2 2221.8 1640.0 2222.6 1642.4 2223.3 1650.7 2224.1 1645.6 2224.9 1647.8 2225.7 1644.5 2226.5 1649.6 2227.2 1643.6 2228.0 1654.0 2228.8 1648.2 2229.6 1651.2 2230.4 1643.9 2231.1 1645.2 2231.9 1643.6 2232.7 1647.7 2233.5 1653.3 2234.3 1640.8 2235.0 1649.9 2235.8 1645.5 2236.6 1653.8 2237.4 1641.5 2238.2 1649.2 2238.9 1643.4 2239.7 1653.7 2240.5 1646.0 2241.3 1644.2 2242.1 1651.5 2242.8 1649.7 2243.6 1647.4 2244.4 1648.7 2245.2 1642.7 2246.0 1651.2 2246.7 1644.3 2247.5 1645.5 2248.3 1651.1 2249.1 1642.8 2249.9 1647.9 2250.6 1646.8 2251.4 1652.5 2252.2 1644.3 2253.0 1646.9 2253.8 1645.7 2254.5 1649.7 2255.3 1641.7 2256.1 1655.7 2256.9 1640.5 2257.7 1650.1 2258.4 1645.1 2259.2 1653.2 2260.0 1642.2 2260.8 1645.4 2261.6 1650.7 2262.3 1649.7 2263.1 1646.9 2263.9 1640.7 2264.7 1649.1 2265.5 1651.2 2266.2 1646.5 2267.0 1643.8 2267.8 1651.3 2268.6 1650.1 2269.4 1651.3 2270.1 1644.3 2270.9 1641.3 2271.7 1649.0 2272.5 1652.6 2273.3 1648.8 2274.0 1642.5 2274.8 1647.9 2275.6 1651.0 2276.4 1654.3 2277.2 1640.2 2277.9 1645.6 2278.7 1649.1 2279.5 1653.0 2280.3 1642.8 2281.1 1646.7 2281.8 1649.3 2282.6 1639.9 2283.4 1657.2 2284.2 1646.0 2285.0 1649.2 2285.7 1652.1 2286.5 1643.4 2287.3 1646.3 2288.1 1645.2 2288.9 1652.4 2289.6 1642.8 2290.4 1652.5 2291.2 1642.7 2292.0 1652.1 2292.8 1649.9 2293.5 1645.1"/>
<path stroke="#0071e4" d="M154.0 1439.5L154.8 1413.9 155.6 1390.3 156.3 1342.1 157.1 1435.3 157.9 1396.7 158.7 1313.1 159.5 1436.7 160.2 1431.2 161.0 1386.1 161.8 1339.1 162.6 1415.7 163.4 1359.9 164.1 1320.3 164.9 1386.5 165.7 1422.3 166.5 1439.2 167.3 1299.4 168.0 1405.1 168.8 1364.6 169.6 1381.0 170.4 1433.3 171.2 1282.4 171.9 1336.1 172.7 1381.5 173.5 1287.1 174.3 1352.9 175.1 1436.5 175.8 1374.9 176.6 1327.1 177.4 1421.7 178.2 1325.7 179.0 1416.5 179.7 1312.9 180.5 1392.8 181.3 1340.7 182.1 1444.2 182.9 1310.7 183.6 1339.4 184.4 1361.3 185.2 1331.6 186.0 1392.5 186.8 1290.6 187.5 1407.5 188.3 1386.4 189.1 1440.6 189.9 1298.7 190.7 1346.8 191.4 1304.3 192.2 1400.9 193.0 1339.0 193.8 1428.1 194.6 1378.8 195.3 1425.8 196.1 1285.6 196.9 1332.6 197.7 1434.6 198.5 1323.8 199.2 1382.0 200.0 1314.7 200.8 1319.0 201.6 1365.8 202.4 1334.4 203.1 1397.6 203.9 1304.3 204.7 1420.8 205.5 1359.2 206.3 1343.1 207.0 1358.0 207.8 1367.4 208.6 1303.9 209.4 1417.1 210.2 1301.1 210.9 1385.5 211.7 1322.4 212.5 1390.8 213.3 1297.6 214.1 1399.5 214.8 1371.6 215.6 1340.6 216.4 1320.4 217.2 1370.4 218.0 1306.4 218.7 1400.1 219.5 1381.3 220.3 1305.3 221.1 1357.1 221.9 1332.2 222.6 1304.0 223.4 1388.2 224.2 1389.7 225.0 1307.8 225.8 1356.7 226.5 1253.8 227.3 1335.3 228.1 1377.6 228.9 1350.6 229.7 1276.3 230.4 1301.5 231.2 1418.1 232.0 1284.2 232.8 1338.2 233.6 1296.0 234.3 1382.0 235.1 1271.1 235.9 1365.7 236.7 1315.7 237.5 1426.8 238.2 1273.2 239.0 1361.8 239.8 1331.8 240.6 1407.2 241.4 1307.3 242.1 1351.7 242.9 1301.5 243.7 1451.6 244.5 1383.4 245.3 1291.1 246.0 1388.5 246.8 1315.7 247.6 1338.2 248.4 1409.2 249.2 1369.4 249.9 1297.4 250.7 1295.9 251.5 1377.0 252.3 1314.9 253.1 1347.5 253.8 1333.0 254.6 1292.9 255.4 1386.2 256.2 1378.8 257.0 1398.2 257.7 1275.4 258.5 1347.8 259.3 1317.2 260.1 1396.6 260.9 1310.6 261.6 1283.6 262.4 1355.6 263.2 1272.8 264.0 1309.0 264.8 1363.2 265.5 1389.6 266.3 1275.4 267.1 1322.3 267.9 1331.8 268.7 1372.7 269.4 1282.1 270.2 1389.8 271.0 1341.4 271.8 1330.1 272.6 1341.3 273.3 1382.4 274.1 1263.9 274.9 1314.1 275.7 1295.1 276.5 1309.6 277.2 1381.8 278.0 1351.5 278.8 1334.1 279.6 1365.5 280.4 1285.1 281.1 1342.9 281.9 1263.4 282.7 1324.9 283.5 1305.7 284.3 1386.9 285.0 1385.4 285.8 1355.3 286.6 1281.4 287.4 1311.7 288.2 1284.1 288.9 1391.2 289.7 1356.9 290.5 1291.7 291.3 1360.7 292.1 1261.7 292.8 1292.3 293.6 1335.5 294.4 1249.3 295.2 1307.2 296.0 1327.6 296.7 1393.5 297.5 1351.4 298.3 1230.4 299.1 1345.6 299.9 1311.6 300.6 1306.7 301.4 1228.9 302.2 1376.3 303.0 1287.1 303.8 1262.4 304.5 1227.2 305.3 1289.8 306.1 1362.0 306.9 1371.3 307.7 1317.0 308.4 1284.0 309.2 1224.0 310.0 1234.6 310.8 1311.6 311.6 1342.9 312.3 1290.5 313.1 1211.8 313.9 1254.6 314.7 1342.2 315.5 1279.0 316.2 1288.8 317.0 1312.6 317.8 1270.8 318.6 1208.6 319.4 1201.9 320.1 1299.4 320.9 1331.8 321.7 1223.7 322.5 1292.8 323.3 1292.7 324.0 1259.7 324.8 1190.9 325.6 1240.9 326.4 1275.4 327.2 1184.5 327.9 1254.3 328.7 1245.0 329.5 1293.8 330.3 1186.3 331.1 1232.6 331.8 1299.3 332.6 1222.0 333.4 1247.1 334.2 1175.5 335.0 1245.1 335.7 1165.1 336.5 1226.7 337.3 1287.0 338.1 1287.9 338.9 1296.0 339.6 1198.5 340.4 1170.8 341.2 1312.7 342.0 1234.3 342.8 1219.6 343.5 1142.9 344.3 1180.6 345.1 1310.1 345.9 1242.5 346.7 1185.3 347.4 1244.9 348.2 1320.5 349.0 1194.4 349.8 1265.5 350.6 1124.5 351.3 1270.5 352.1 1210.5 352.9 1295.4 353.7 1228.2 354.5 1226.2 355.2 1156.8 356.0 1287.4 356.8 1218.6 357.6 1260.9 358.4 1290.9 359.1 1172.9 359.9 1300.8 360.7 1141.8 361.5 1202.4 362.3 1234.1 363.0 1249.9 363.8 1264.1 364.6 1151.1 365.4 1200.3 366.2 1158.2 366.9 1222.8 367.7 1157.6 368.5 1269.6 369.3 1230.7 370.1 1155.7 370.8 1277.7 371.6 1179.5 372.4 1220.2 373.2 1254.2 374.0 1139.3 374.7 1202.7 375.5 1180.6 376.3 1141.4 377.1 1236.2 377.9 1255.4 378.6 1153.9 379.4 1229.2 380.2 1198.3 381.0 1253.6 381.8 1210.1 382.5 1133.4 383.3 1199.2 384.1 1259.0 384.9 1230.9 385.7 1181.2 386.4 1138.3 387.2 1238.9 388.0 1125.4 388.8 1129.6 389.6 1239.9 390.3 1199.5 391.1 1120.5 391.9 1214.3 392.7 1185.0 393.5 1160.7 394.2 1185.1 395.0 1170.0 395.8 1235.2 396.6 1119.8 397.4 1207.8 398.1 1142.0 398.9 1192.2 399.7 1165.2 400.5 1142.6 401.3 1187.9 402.0 1202.9 402.8 1117.4 403.6 1221.6 404.4 1168.7 405.2 1132.5 405.9 1220.3 406.7 1174.2 407.5 1154.6 408.3 1203.3 409.1 1105.8 409.8 1196.6 410.6 1096.7 411.4 1213.6 412.2 1144.4 413.0 1084.2 413.7 1152.8 414.5 1225.6 415.3 1138.0 416.1 1080.1 416.9 1152.1 417.6 1100.7 418.4 1192.5 419.2 1155.8 420.0 1106.0 420.8 1030.4 421.5 1190.1 422.3 1186.6 423.1 1106.1 423.9 1071.4 424.7 998.1 425.4 1033.3 426.2 1080.1 427.0 1150.6 427.8 1120.4 428.6 1073.2 429.3 990.4 430.1 1103.4 430.9 1165.4 431.7 1073.0 432.5 995.3 433.2 1076.1 434.0 1132.7 434.8 981.9 435.6 1154.9 436.4 1106.7 437.1 1042.7 437.9 1069.1 438.7 1106.3 439.5 1000.7 440.3 926.9 441.0 948.1 441.8 1077.0 442.6 980.6 443.4 1080.0 444.2 1022.7 444.9 977.3 445.7 1103.0 446.5 913.5 447.3 992.8 448.1 1026.5 448.8 873.7 449.6 1085.6 450.4 1008.0 451.2 1120.7 452.0 849.1 452.7 951.7 453.5 1040.2 454.3 946.0 455.1 904.6 455.9 1073.7 456.6 935.7 457.4 1093.6 458.2 880.6 459.0 1013.0 459.8 1030.7 460.5 983.9 461.3 816.2 462.1 883.4 462.9 937.2 463.7 905.8 464.4 839.4 465.2 981.1 466.0 820.4 466.8 915.1 467.6 945.9 468.3 979.3 469.1 933.5 469.9 998.9 470.7 824.2 471.5 782.1 472.2 844.3 473.0 969.4 473.8 920.4 474.6 842.7 475.4 863.7 476.1 920.5 476.9 899.4 477.7 794.2 478.5 980.6 479.3 779.8 480.0 826.3 480.8 852.9 481.6 850.0 482.4 873.9 483.2 727.1 483.9 917.4 484.7 963.6 485.5 803.7 486.3 718.7 487.1 841.8 487.8 821.3 488.6 808.2 489.4 910.0 490.2 711.6 491.0 762.8 491.7 712.3 492.5 934.5 493.3 867.3 494.1 823.6 494.9 691.5 495.6 896.0 496.4 746.9 497.2 850.0 498.0 796.5 498.8 724.5 499.5 687.7 500.3 649.0 501.1 802.6 501.9 827.0 502.7 697.5 503.4 820.0 504.2 687.5 505.0 709.9 505.8 583.5 506.6 655.1 507.3 731.4 508.1 525.9 508.9 659.9 509.7 598.3 510.5 706.2 511.2 665.9 512.0 613.8 512.8 532.7 513.6 621.1 514.4 713.3 515.1 716.5 515.9 736.5 516.7 495.9 517.5 612.2 518.3 653.2 519.0 538.8 519.8 691.3 520.6 605.1 521.4 660.5 522.2 690.5 522.9 552.8 523.7 578.2 524.5 697.4 525.3 642.4 526.1 508.5 526.8 695.1 527.6 599.8 528.4 547.6 529.2 728.3 530.0 547.1 530.7 650.4 531.5 459.6 532.3 568.7 533.1 674.3 533.9 632.7 534.6 439.1 535.4 575.0 536.2 703.4 537.0 510.0 537.8 649.5 538.5 469.6 539.3 459.9 540.1 640.1 540.9 712.6 541.7 368.6 542.4 587.0 543.2 428.6 544.0 462.5 544.8 568.2 545.6 424.2 546.3 548.7 547.1 563.2 547.9 357.9 548.7 519.1 549.5 398.7 550.2 528.6 551.0 350.1 551.8 452.6 552.6 483.6 553.4 395.1 554.1 409.8 554.9 544.6 555.7 486.9 556.5 508.5 557.3 351.4 558.0 437.0 558.8 456.7 559.6 467.7 560.4 358.8 561.2 421.5 561.9 499.5 562.7 406.0 563.5 355.9 564.3 473.3 565.1 504.1 565.8 492.6 566.6 397.6 567.4 340.6 568.2 493.7 569.0 321.8 569.7 464.9 570.5 529.7 571.3 420.3 572.1 347.6 572.9 500.1 573.6 304.3 574.4 465.2 575.2 430.4 576.0 378.8 576.8 286.1 577.5 593.6 578.3 367.4 579.1 540.9 579.9 315.8 580.7 396.4 581.4 392.2 582.2 428.4 583.0 499.2 583.8 270.9 584.6 389.4 585.3 321.2 586.1 518.5 586.9 380.7 587.7 385.7 588.5 240.5 589.2 501.3 590.0 431.5 590.8 405.4 591.6 303.5 592.4 339.7 593.1 431.6 593.9 336.4 594.7 297.2 595.5 505.5 596.3 380.5 597.0 345.1 597.8 379.6 598.6 486.7 599.4 298.5 600.2 296.3 600.9 295.9 601.7 461.0 602.5 393.7 603.3 271.3 604.1 284.6 604.8 435.4 605.6 391.4 606.4 417.9 607.2 350.3 608.0 272.6 608.7 330.8 609.5 299.7 610.3 286.3 611.1 437.1 611.9 344.3 612.6 282.3 613.4 445.8 614.2 377.1 615.0 335.1 615.8 389.9 616.5 247.3 617.3 291.7 618.1 342.0 618.9 402.5 619.7 333.3 620.4 369.6 621.2 274.6 622.0 370.0 622.8 254.1 623.6 303.8 624.3 386.9 625.1 401.8 625.9 315.8 626.7 304.1 627.5 226.1 628.2 211.9 629.0 364.7 629.8 273.3 630.6 352.3 631.4 192.1 632.1 408.2 632.9 276.9 633.7 285.7 634.5 346.0 635.3 351.3 636.0 138.3 636.8 159.3 637.6 301.6 638.4 127.4 639.2 376.8 639.9 202.5 640.7 156.0 641.5 380.4 642.3 228.2 643.1 222.3 643.8 142.0 644.6 274.5 645.4 289.4 646.2 209.3 647.0 266.8 647.7 204.6 648.5 137.4 649.3 281.9 650.1 269.8 650.9 90.5 651.6 203.7 652.4 357.3 653.2 259.8 654.0 335.9 654.8 120.2 655.5 113.3 656.3 212.7 657.1 289.1 657.9 88.4 658.7 206.9 659.4 298.0 660.2 209.7 661.0 115.9 661.8 66.1 662.6 135.6 663.3 231.7 664.1 39.9 664.9 365.6 665.7 147.1 666.5 275.5 667.2 316.6 668.0 102.7 668.8 90.6 669.6 300.5 670.4 155.5 671.1 225.8 671.9 343.0 672.7 124.4 673.5 80.5 674.3 255.2 675.0 194.4 675.8 16.9 676.6 332.2 677.4 203.8 678.2 329.6 678.9 197.3 679.7 131.1 680.5 122.0 681.3 215.7 682.1 96.0 682.8 291.7 683.6 130.4 684.4 58.9 685.2 266.0 686.0 265.8 686.7 147.5 687.5 70.3 688.3 219.4 689.1 280.8 689.9 127.4 690.6 239.2 691.4 358.4 692.2 80.3 693.0 77.5 693.8 311.1 694.5 240.8 695.3 100.6 696.1 113.1 696.9 205.0 697.7 339.7 698.4 230.4 699.2 170.5 700.0 130.2 700.8 304.7 701.6 227.3 702.3 189.4 703.1 339.8 703.9 157.3 704.7 204.9 705.5 240.2 706.2 263.5 707.0 291.0 707.8 186.5 708.6 112.0 709.4 227.9 710.1 319.5 710.9 177.6 711.7 262.3 712.5 124.7 713.3 326.8 714.0 283.7 714.8 204.2 715.6 215.2 716.4 339.3 717.2 166.8 717.9 291.5 718.7 243.3 719.5 322.6 720.3 262.0 721.1 183.0 721.8 262.5 722.6 161.9 723.4 310.1 724.2 216.6 725.0 153.5 725.7 233.2 726.5 298.4 727.3 306.6 728.1 337.6 728.9 272.8 729.6 246.6 730.4 199.3 731.2 269.1 732.0 249.5 732.8 187.9 733.5 326.9 734.3 218.7 735.1 296.5 735.9 209.3 736.7 277.9 737.4 246.2 738.2 344.5 739.0 185.1 739.8 297.6 740.6 219.3 741.3 270.5 742.1 265.6 742.9 344.1 743.7 350.5 744.5 290.7 745.2 218.8 746.0 184.5 746.8 194.9 747.6 236.7 748.4 388.2 749.1 331.3 749.9 287.8 750.7 218.5 751.5 253.7 752.3 397.0 753.0 213.7 753.8 237.5 754.6 360.5 755.4 402.3 756.2 275.2 756.9 434.1 757.7 164.6 758.5 369.8 759.3 241.1 760.1 359.2 760.8 472.0 761.6 268.5 762.4 262.3 763.2 440.6 764.0 381.8 764.7 246.4 765.5 443.7 766.3 180.6 767.1 369.0 767.9 250.4 768.6 307.0 769.4 414.5 770.2 370.7 771.0 243.4 771.8 401.7 772.5 301.1 773.3 201.3 774.1 349.2 774.9 273.8 775.7 211.4 776.4 364.3 777.2 464.1 778.0 425.3 778.8 279.8 779.6 197.5 780.3 368.6 781.1 351.3 781.9 259.4 782.7 289.4 783.5 449.8 784.2 269.6 785.0 359.6 785.8 459.7 786.6 448.3 787.4 284.2 788.1 531.5 788.9 353.7 789.7 384.1 790.5 326.8 791.3 271.8 792.0 499.8 792.8 407.3 793.6 356.8 794.4 386.2 795.2 280.4 795.9 489.4 796.7 431.8 797.5 251.2 798.3 344.1 799.1 469.2 799.8 306.4 800.6 384.2 801.4 309.6 802.2 453.3 803.0 276.0 803.7 431.2 804.5 519.8 805.3 308.3 806.1 347.0 806.9 515.4 807.6 320.2 808.4 496.3 809.2 515.3 810.0 468.1 810.8 369.8 811.5 297.2 812.3 495.8 813.1 508.2 813.9 401.1 814.7 368.6 815.4 342.1 816.2 506.0 817.0 458.8 817.8 406.1 818.6 406.5 819.3 339.8 820.1 463.6 820.9 502.4 821.7 545.8 822.5 441.5 823.2 398.8 824.0 282.7 824.8 347.9 825.6 416.4 826.4 459.7 827.1 547.4 827.9 578.3 828.7 367.0 829.5 500.3 830.3 442.6 831.0 550.9 831.8 486.0 832.6 529.1 833.4 364.3 834.2 506.9 834.9 603.8 835.7 437.8 836.5 383.1 837.3 594.2 838.1 418.3 838.8 501.0 839.6 395.7 840.4 526.3 841.2 413.5 842.0 551.2 842.7 353.1 843.5 650.8 844.3 562.4 845.1 457.1 845.9 358.9 846.6 255.0 847.4 620.3 848.2 536.3 849.0 445.7 849.8 436.4 850.5 520.5 851.3 595.0 852.1 334.8 852.9 341.6 853.7 471.2 854.4 661.3 855.2 471.6 856.0 499.9 856.8 407.2 857.6 581.9 858.3 387.5 859.1 388.0 859.9 572.4 860.7 361.6 861.5 643.0 862.2 399.7 863.0 569.5 863.8 669.8 864.6 357.4 865.4 601.3 866.1 540.8 866.9 307.0 867.7 423.2 868.5 610.3 869.3 286.4 870.0 392.8 870.8 575.5 871.6 676.3 872.4 548.6 873.2 493.7 873.9 415.1 874.7 418.8 875.5 659.0 876.3 227.1 877.1 510.4 877.8 344.0 878.6 598.0 879.4 461.6 880.2 552.8 881.0 551.4 881.7 594.6 882.5 354.1 883.3 438.3 884.1 681.6 884.9 418.9 885.6 560.5 886.4 495.8 887.2 709.7 888.0 442.2 888.8 570.5 889.5 509.3 890.3 518.0 891.1 698.3 891.9 604.3 892.7 457.8 893.4 572.7 894.2 629.7 895.0 553.7 895.8 489.0 896.6 673.5 897.3 496.9 898.1 604.7 898.9 540.7 899.7 503.8 900.5 533.6 901.2 685.6 902.0 585.7 902.8 460.3 903.6 531.0 904.4 645.4 905.1 693.0 905.9 590.7 906.7 545.2 907.5 494.9 908.3 727.5 909.0 451.7 909.8 613.4 910.6 737.0 911.4 518.3 912.2 652.8 912.9 559.0 913.7 478.2 914.5 663.8 915.3 626.5 916.1 714.5 916.8 487.6 917.6 523.5 918.4 732.9 919.2 594.5 920.0 563.1 920.7 715.9 921.5 720.6 922.3 502.4 923.1 581.9 923.9 652.7 924.6 474.4 925.4 581.5 926.2 764.2 927.0 673.3 927.8 493.5 928.5 575.2 929.3 682.3 930.1 771.7 930.9 758.2 931.7 605.0 932.4 645.0 933.2 478.6 934.0 688.5 934.8 629.2 935.6 497.5 936.3 860.1 937.1 622.9 937.9 767.7 938.7 697.6 939.5 558.0 940.2 520.8 941.0 701.9 941.8 786.9 942.6 546.8 943.4 785.7 944.1 511.0 944.9 694.0 945.7 666.0 946.5 766.8 947.3 788.8 948.0 586.3 948.8 626.4 949.6 759.8 950.4 608.4 951.2 529.5 951.9 841.2 952.7 612.6 953.5 696.4 954.3 782.3 955.1 552.2 955.8 558.7 956.6 801.5 957.4 606.3 958.2 753.3 959.0 619.4 959.7 758.4 960.5 595.6 961.3 691.9 962.1 609.4 962.9 615.7 963.6 789.8 964.4 834.6 965.2 659.3 966.0 783.3 966.8 594.0 967.5 715.6 968.3 744.9 969.1 803.5 969.9 610.4 970.7 686.0 971.4 717.1 972.2 783.7 973.0 679.7 973.8 600.2 974.6 733.9 975.3 811.6 976.1 623.0 976.9 675.5 977.7 782.6 978.5 651.9 979.2 691.1 980.0 816.9 980.8 857.0 981.6 635.8 982.4 790.3 983.1 728.9 983.9 815.2 984.7 784.8 985.5 736.6 986.3 672.8 987.0 717.0 987.8 858.7 988.6 719.2 989.4 839.4 990.2 728.8 990.9 704.3 991.7 822.0 992.5 872.5 993.3 739.9 994.1 811.3 994.8 742.9 995.6 868.1 996.4 878.8 997.2 875.6 998.0 719.8 998.7 817.7 999.5 813.6 1000.3 689.5 1001.1 915.1 1001.9 773.6 1002.6 721.9 1003.4 799.2 1004.2 899.2 1005.0 902.6 1005.8 745.5 1006.5 815.7 1007.3 871.9 1008.1 915.6 1008.9 719.2 1009.7 903.5 1010.4 842.8 1011.2 825.5 1012.0 929.7 1012.8 833.7 1013.6 772.4 1014.3 832.4 1015.1 877.8 1015.9 786.4 1016.7 839.7 1017.5 902.4 1018.2 851.4 1019.0 739.1 1019.8 909.9 1020.6 849.7 1021.4 800.0 1022.1 771.7 1022.9 889.3 1023.7 935.8 1024.5 954.8 1025.3 844.6 1026.0 786.2 1026.8 892.2 1027.6 909.3 1028.4 941.9 1029.2 786.2 1029.9 873.5 1030.7 998.3 1031.5 813.2 1032.3 844.0 1033.1 920.7 1033.8 788.5 1034.6 906.3 1035.4 834.9 1036.2 999.0 1037.0 894.9 1037.7 1026.0 1038.5 847.5 1039.3 937.7 1040.1 933.1 1040.9 986.1 1041.6 846.3 1042.4 900.2 1043.2 985.1 1044.0 814.6 1044.8 850.4 1045.5 909.5 1046.3 920.9 1047.1 934.8 1047.9 1054.7 1048.7 843.3 1049.4 990.0 1050.2 957.5 1051.0 870.3 1051.8 799.4 1052.6 902.6 1053.3 888.8 1054.1 1036.4 1054.9 825.7 1055.7 956.8 1056.5 865.4 1057.2 911.7 1058.0 998.3 1058.8 1000.1 1059.6 859.8 1060.4 1024.6 1061.1 906.0 1061.9 915.8 1062.7 1000.6 1063.5 992.6 1064.3 857.2 1065.0 999.4 1065.8 899.4 1066.6 1053.1 1067.4 867.0 1068.2 1053.8 1068.9 974.5 1069.7 908.7 1070.5 895.1 1071.3 1049.2 1072.1 976.7 1072.8 892.6 1073.6 988.4 1074.4 941.9 1075.2 864.5 1076.0 1004.6 1076.7 1082.7 1077.5 973.6 1078.3 1048.3 1079.1 923.6 1079.9 1020.1 1080.6 1035.0 1081.4 1073.8 1082.2 957.8 1083.0 968.8 1083.8 1087.4 1084.5 1041.4 1085.3 981.7 1086.1 957.2 1086.9 952.9 1087.7 947.9 1088.4 1064.7 1089.2 1012.6 1090.0 919.2 1090.8 1022.5 1091.6 1056.7 1092.3 995.9 1093.1 1058.4 1093.9 960.5 1094.7 1071.7 1095.5 981.2 1096.2 966.1 1097.0 1000.7 1097.8 1053.8 1098.6 1076.8 1099.4 1100.3 1100.1 957.2 1100.9 1053.6 1101.7 1037.5 1102.5 992.3 1103.3 1068.7 1104.0 1106.0 1104.8 1032.0 1105.6 1130.1 1106.4 1023.6 1107.2 1076.4 1107.9 971.4 1108.7 1128.8 1109.5 1002.3 1110.3 966.1 1111.1 1094.1 1111.8 1067.2 1112.6 1119.6 1113.4 1047.5 1114.2 993.9 1115.0 1082.0 1115.7 1004.4 1116.5 966.6 1117.3 1117.4 1118.1 980.9 1118.9 1025.1 1119.6 1060.2 1120.4 1138.8 1121.2 1031.7 1122.0 1162.1 1122.8 1101.3 1123.5 1069.8 1124.3 988.2 1125.1 1083.8 1125.9 1056.3 1126.7 1168.3 1127.4 1096.1 1128.2 1162.0 1129.0 1028.7 1129.8 1002.9 1130.6 1089.0 1131.3 1130.6 1132.1 988.1 1132.9 1167.2 1133.7 1018.8 1134.5 1132.4 1135.2 1182.6 1136.0 1036.3 1136.8 1003.1 1137.6 1153.7 1138.4 1120.3 1139.1 1084.5 1139.9 1139.7 1140.7 1078.8 1141.5 1150.7 1142.3 1052.8 1143.0 1170.6 1143.8 1135.4 1144.6 1027.1 1145.4 1011.7 1146.2 1128.5 1146.9 1033.2 1147.7 1158.8 1148.5 1024.7 1149.3 1031.2 1150.1 1140.9 1150.8 1103.0 1151.6 1192.9 1152.4 1105.4 1153.2 1224.7 1154.0 1066.1 1154.7 1044.3 1155.5 1232.1 1156.3 1168.7 1157.1 1034.7 1157.9 1097.1 1158.6 1200.9 1159.4 1091.3 1160.2 1058.5 1161.0 1128.9 1161.8 1039.8 1162.5 1127.3 1163.3 1163.3 1164.1 1239.1 1164.9 1109.6 1165.7 1081.9 1166.4 1240.0 1167.2 1141.8 1168.0 1099.1 1168.8 1032.3 1169.6 1202.4 1170.3 1238.9 1171.1 1063.6 1171.9 1205.7 1172.7 1074.5 1173.5 1242.3 1174.2 1203.1 1175.0 1121.7 1175.8 1091.1 1176.6 1268.8 1177.4 1224.2 1178.1 1105.2 1178.9 1188.4 1179.7 1055.5 1180.5 1061.0 1181.3 1176.7 1182.0 1096.6 1182.8 1248.4 1183.6 1227.6 1184.4 1093.8 1185.2 1253.7 1185.9 1066.3 1186.7 1076.8 1187.5 1173.9 1188.3 1165.5 1189.1 1246.6 1189.8 1270.3 1190.6 1092.4 1191.4 1170.0 1192.2 1216.3 1193.0 1191.5 1193.7 1240.1 1194.5 1083.1 1195.3 1154.7 1196.1 1272.6 1196.9 1211.6 1197.6 1159.6 1198.4 1077.0 1199.2 1160.7 1200.0 1259.3 1200.8 1121.3 1201.5 1224.7 1202.3 1181.8 1203.1 1220.1 1203.9 1258.5 1204.7 1097.1 1205.4 1125.5 1206.2 1304.0 1207.0 1194.1 1207.8 1234.2 1208.6 1224.9 1209.3 1149.3 1210.1 1125.3 1210.9 1271.8 1211.7 1203.9 1212.5 1135.2 1213.2 1259.6 1214.0 1244.5 1214.8 1152.7 1215.6 1267.8 1216.4 1147.1 1217.1 1216.3 1217.9 1123.2 1218.7 1194.7 1219.5 1207.9 1220.3 1295.8 1221.0 1199.4 1221.8 1216.4 1222.6 1147.0 1223.4 1289.4 1224.2 1229.8 1224.9 1259.9 1225.7 1136.2 1226.5 1200.3 1227.3 1318.3 1228.1 1245.2 1228.8 1113.6 1229.6 1214.9 1230.4 1163.9 1231.2 1272.1 1232.0 1118.0 1232.7 1247.0 1233.5 1259.7 1234.3 1208.8 1235.1 1272.3 1235.9 1139.2 1236.6 1310.8 1237.4 1264.9 1238.2 1176.6 1239.0 1205.9 1239.8 1202.9 1240.5 1169.5 1241.3 1279.4 1242.1 1281.0 1242.9 1310.9 1243.7 1164.7 1244.4 1315.4 1245.2 1233.3 1246.0 1186.1 1246.8 1226.4 1247.6 1267.0 1248.3 1298.2 1249.1 1213.1 1249.9 1341.9 1250.7 1187.9 1251.5 1348.4 1252.2 1221.9 1253.0 1343.5 1253.8 1263.3 1254.6 1220.4 1255.4 1342.4 1256.1 1268.8 1256.9 1285.8 1257.7 1216.6 1258.5 1224.1 1259.3 1200.9 1260.0 1300.7 1260.8 1350.6 1261.6 1350.9 1262.4 1337.5 1263.2 1165.5 1263.9 1274.9 1264.7 1347.0 1265.5 1324.6 1266.3 1269.9 1267.1 1205.6 1267.8 1246.8 1268.6 1331.3 1269.4 1225.9 1270.2 1335.5 1271.0 1356.1 1271.7 1250.9 1272.5 1342.0 1273.3 1236.9 1274.1 1343.6 1274.9 1272.8 1275.6 1167.6 1276.4 1283.3 1277.2 1370.2 1278.0 1218.9 1278.8 1280.5 1279.5 1300.4 1280.3 1353.3 1281.1 1259.4 1281.9 1242.3 1282.7 1344.6 1283.4 1294.9 1284.2 1258.8 1285.0 1374.9 1285.8 1221.6 1286.6 1329.7 1287.3 1353.1 1288.1 1189.9 1288.9 1294.5 1289.7 1221.8 1290.5 1299.3 1291.2 1397.7 1292.0 1324.3 1292.8 1382.3 1293.6 1240.1 1294.4 1329.9 1295.1 1275.2 1295.9 1303.9 1296.7 1223.5 1297.5 1325.2 1298.3 1363.0 1299.0 1279.3 1299.8 1337.0 1300.6 1229.3 1301.4 1395.3 1302.2 1397.6 1302.9 1213.4 1303.7 1305.8 1304.5 1356.3 1305.3 1399.8 1306.1 1308.2 1306.8 1330.3 1307.6 1265.5 1308.4 1386.7 1309.2 1298.5 1310.0 1293.1 1310.7 1273.0 1311.5 1265.2 1312.3 1392.9 1313.1 1231.6 1313.9 1346.9 1314.6 1256.5 1315.4 1379.9 1316.2 1273.3 1317.0 1339.1 1317.8 1342.0 1318.5 1398.9 1319.3 1237.4 1320.1 1306.9 1320.9 1381.5 1321.7 1244.6 1322.4 1353.6 1323.2 1304.2 1324.0 1303.5 1324.8 1377.7 1325.6 1242.6 1326.3 1359.1 1327.1 1328.5 1327.9 1267.1 1328.7 1399.6 1329.5 1315.4 1330.2 1299.1 1331.0 1383.0 1331.8 1341.2 1332.6 1222.3 1333.4 1343.7 1334.1 1308.2 1334.9 1408.8 1335.7 1265.7 1336.5 1248.4 1337.3 1250.8 1338.0 1347.0 1338.8 1385.0 1339.6 1295.9 1340.4 1251.2 1341.2 1421.1 1341.9 1329.3 1342.7 1338.8 1343.5 1243.8 1344.3 1399.5 1345.1 1279.5 1345.8 1338.6 1346.6 1273.7 1347.4 1406.5 1348.2 1270.8 1349.0 1390.5 1349.7 1290.1 1350.5 1246.0 1351.3 1357.9 1352.1 1279.0 1352.9 1246.1 1353.6 1399.5 1354.4 1387.5 1355.2 1397.4 1356.0 1337.2 1356.8 1249.5 1357.5 1274.2 1358.3 1256.9 1359.1 1334.9 1359.9 1285.7 1360.7 1378.0 1361.4 1368.5 1362.2 1272.5 1363.0 1265.0 1363.8 1379.0 1364.6 1313.1 1365.3 1273.2 1366.1 1354.8 1366.9 1350.9 1367.7 1394.2 1368.5 1302.9 1369.2 1314.9 1370.0 1244.6 1370.8 1324.0 1371.6 1247.9 1372.4 1294.5 1373.1 1381.6 1373.9 1388.4 1374.7 1358.4 1375.5 1325.1 1376.3 1231.2 1377.0 1394.6 1377.8 1306.6 1378.6 1243.2 1379.4 1294.7 1380.2 1364.9 1380.9 1323.3 1381.7 1241.6 1382.5 1400.4 1383.3 1345.0 1384.1 1314.0 1384.8 1402.5 1385.6 1241.7 1386.4 1376.2 1387.2 1331.6 1388.0 1314.3 1388.7 1229.3 1389.5 1369.5 1390.3 1331.9 1391.1 1283.5 1391.9 1344.8 1392.6 1365.3 1393.4 1291.5 1394.2 1253.0 1395.0 1387.7 1395.8 1293.0 1396.5 1354.4 1397.3 1405.6 1398.1 1288.3 1398.9 1414.5 1399.7 1353.8 1400.4 1263.6 1401.2 1272.9 1402.0 1277.5 1402.8 1297.8 1403.6 1331.2 1404.3 1390.5 1405.1 1354.6 1405.9 1393.6 1406.7 1267.8 1407.5 1295.6 1408.2 1357.5 1409.0 1252.8 1409.8 1302.2 1410.6 1376.5 1411.4 1374.9 1412.1 1356.7 1412.9 1261.7 1413.7 1284.4 1414.5 1257.9 1415.3 1307.1 1416.0 1340.5 1416.8 1406.0 1417.6 1388.4 1418.4 1279.8 1419.2 1324.3 1419.9 1263.5 1420.7 1368.9 1421.5 1296.1 1422.3 1266.2 1423.1 1355.9 1423.8 1386.4 1424.6 1268.5 1425.4 1254.5 1426.2 1343.5 1427.0 1344.4 1427.7 1402.7 1428.5 1226.6 1429.3 1282.7 1430.1 1344.8 1430.9 1367.0 1431.6 1275.4 1432.4 1298.8 1433.2 1255.3 1434.0 1342.0 1434.8 1357.9 1435.5 1277.9 1436.3 1284.7 1437.1 1394.1 1437.9 1275.3 1438.7 1330.9 1439.4 1336.1 1440.2 1375.5 1441.0 1311.9 1441.8 1233.8 1442.6 1347.2 1443.3 1295.0 1444.1 1255.8 1444.9 1358.1 1445.7 1289.3 1446.5 1357.4 1447.2 1342.4 1448.0 1230.4 1448.8 1280.5 1449.6 1364.3 1450.4 1321.6 1451.1 1266.9 1451.9 1319.7 1452.7 1244.8 1453.5 1375.7 1454.3 1300.2 1455.0 1254.3 1455.8 1316.1 1456.6 1386.1 1457.4 1356.5 1458.2 1358.9 1458.9 1322.3 1459.7 1275.2 1460.5 1377.9 1461.3 1391.7 1462.1 1346.0 1462.8 1286.5 1463.6 1265.5 1464.4 1281.3 1465.2 1300.8 1466.0 1382.7 1466.7 1324.3 1467.5 1318.3 1468.3 1334.7 1469.1 1245.5 1469.9 1385.6 1470.6 1404.0 1471.4 1312.6 1472.2 1321.1 1473.0 1251.7 1473.8 1336.9 1474.5 1398.9 1475.3 1286.3 1476.1 1318.7 1476.9 1323.7 1477.7 1380.9 1478.4 1284.3 1479.2 1294.3 1480.0 1337.9 1480.8 1384.6 1481.6 1313.4 1482.3 1255.3 1483.1 1240.4 1483.9 1317.4 1484.7 1398.7 1485.5 1295.4 1486.2 1264.0 1487.0 1337.3 1487.8 1301.9 1488.6 1397.6 1489.4 1408.9 1490.1 1269.7 1490.9 1356.8 1491.7 1307.0 1492.5 1357.6 1493.3 1242.1 1494.0 1305.9 1494.8 1410.9 1495.6 1283.4 1496.4 1241.2 1497.2 1353.3 1497.9 1378.1 1498.7 1336.2 1499.5 1245.9 1500.3 1295.2 1501.1 1386.2 1501.8 1280.8 1502.6 1363.2 1503.4 1369.2 1504.2 1285.3 1505.0 1332.6 1505.7 1341.9 1506.5 1275.7 1507.3 1389.6 1508.1 1260.5 1508.9 1402.6 1509.6 1348.7 1510.4 1327.6 1511.2 1355.4 1512.0 1362.3 1512.8 1288.5 1513.5 1292.7 1514.3 1291.3 1515.1 1251.8 1515.9 1315.3 1516.7 1380.7 1517.4 1395.8 1518.2 1287.7 1519.0 1265.0 1519.8 1337.9 1520.6 1344.9 1521.3 1394.9 1522.1 1320.7 1522.9 1266.7 1523.7 1272.9 1524.5 1329.7 1525.2 1303.1 1526.0 1375.7 1526.8 1349.4 1527.6 1279.8 1528.4 1309.7 1529.1 1371.1 1529.9 1249.3 1530.7 1372.1 1531.5 1333.7 1532.3 1324.0 1533.0 1349.8 1533.8 1362.2 1534.6 1295.1 1535.4 1268.3 1536.2 1323.7 1536.9 1255.3 1537.7 1374.7 1538.5 1259.0 1539.3 1371.2 1540.1 1302.7 1540.8 1263.2 1541.6 1335.1 1542.4 1277.6 1543.2 1321.7 1544.0 1364.9 1544.7 1280.4 1545.5 1302.4 1546.3 1254.2 1547.1 1376.7 1547.9 1359.5 1548.6 1258.0 1549.4 1321.6 1550.2 1358.3 1551.0 1299.9 1551.8 1239.9 1552.5 1364.0 1553.3 1288.3 1554.1 1357.6 1554.9 1256.0 1555.7 1360.8 1556.4 1345.0 1557.2 1311.5 1558.0 1302.4 1558.8 1254.7 1559.6 1358.9 1560.3 1363.0 1561.1 1262.9 1561.9 1387.6 1562.7 1363.3 1563.5 1296.8 1564.2 1266.3 1565.0 1390.7 1565.8 1247.5 1566.6 1352.3 1567.4 1380.1 1568.1 1258.0 1568.9 1260.0 1569.7 1320.9 1570.5 1227.3 1571.3 1344.0 1572.0 1371.9 1572.8 1282.9 1573.6 1241.0 1574.4 1294.7 1575.2 1365.1 1575.9 1349.1 1576.7 1327.0 1577.5 1289.2 1578.3 1389.7 1579.1 1251.1 1579.8 1317.0 1580.6 1253.3 1581.4 1313.1 1582.2 1352.5 1583.0 1298.7 1583.7 1207.7 1584.5 1316.3 1585.3 1393.3 1586.1 1340.8 1586.9 1271.3 1587.6 1365.5 1588.4 1249.6 1589.2 1366.9 1590.0 1334.9 1590.8 1286.5 1591.5 1252.3 1592.3 1382.6 1593.1 1302.4 1593.9 1248.2 1594.7 1335.6 1595.4 1357.0 1596.2 1305.5 1597.0 1310.2 1597.8 1247.3 1598.6 1343.8 1599.3 1240.4 1600.1 1293.4 1600.9 1221.7 1601.7 1359.7 1602.5 1264.8 1603.2 1342.4 1604.0 1276.9 1604.8 1306.6 1605.6 1253.1 1606.4 1268.2 1607.1 1327.5 1607.9 1346.7 1608.7 1273.3 1609.5 1291.5 1610.3 1262.7 1611.0 1351.6 1611.8 1232.3 1612.6 1319.3 1613.4 1248.8 1614.2 1300.1 1614.9 1257.7 1615.7 1357.1 1616.5 1374.9 1617.3 1214.9 1618.1 1326.1 1618.8 1284.7 1619.6 1359.2 1620.4 1243.4 1621.2 1320.1 1622.0 1288.3 1622.7 1356.7 1623.5 1243.2 1624.3 1335.8 1625.1 1362.7 1625.9 1289.0 1626.6 1302.6 1627.4 1346.7 1628.2 1333.2 1629.0 1223.9 1629.8 1382.7 1630.5 1300.5 1631.3 1275.3 1632.1 1341.2 1632.9 1380.6 1633.7 1304.4 1634.4 1265.1 1635.2 1307.8 1636.0 1407.1 1636.8 1244.1 1637.6 1299.7 1638.3 1343.0 1639.1 1377.5 1639.9 1291.7 1640.7 1245.1 1641.5 1317.2 1642.2 1314.6 1643.0 1263.5 1643.8 1295.3 1644.6 1339.6 1645.4 1332.1 1646.1 1381.6 1646.9 1304.3 1647.7 1274.8 1648.5 1273.6 1649.3 1295.9 1650.0 1332.4 1650.8 1365.6 1651.6 1305.4 1652.4 1336.7 1653.2 1245.3 1653.9 1368.9 1654.7 1353.9 1655.5 1330.5 1656.3 1289.1 1657.1 1240.4 1657.8 1323.2 1658.6 1252.1 1659.4 1286.1 1660.2 1361.9 1661.0 1329.5 1661.7 1245.6 1662.5 1291.7 1663.3 1354.1 1664.1 1313.1 1664.9 1290.4 1665.6 1365.0 1666.4 1252.9 1667.2 1312.5 1668.0 1250.4 1668.8 1359.5 1669.5 1283.1 1670.3 1361.2 1671.1 1264.0 1671.9 1339.9 1672.7 1290.9 1673.4 1341.0 1674.2 1301.8 1675.0 1272.2 1675.8 1296.4 1676.6 1266.7 1677.3 1339.5 1678.1 1286.1 1678.9 1354.5 1679.7 1285.0 1680.5 1354.6 1681.2 1330.2 1682.0 1256.6 1682.8 1269.9 1683.6 1291.3 1684.4 1326.4 1685.1 1353.9 1685.9 1340.9 1686.7 1379.9 1687.5 1301.3 1688.3 1245.5 1689.0 1374.3 1689.8 1314.4 1690.6 1263.1 1691.4 1327.7 1692.2 1276.0 1692.9 1371.4 1693.7 1293.9 1694.5 1331.3 1695.3 1301.4 1696.1 1374.2 1696.8 1328.4 1697.6 1276.3 1698.4 1280.4 1699.2 1374.3 1700.0 1299.5 1700.7 1342.3 1701.5 1315.0 1702.3 1322.7 1703.1 1364.3 1703.9 1266.6 1704.6 1357.7 1705.4 1280.9 1706.2 1312.8 1707.0 1318.6 1707.8 1255.2 1708.5 1308.9 1709.3 1349.6 1710.1 1382.1 1710.9 1321.0 1711.7 1289.1 1712.4 1273.2 1713.2 1398.2 1714.0 1348.2 1714.8 1271.5 1715.6 1334.9 1716.3 1308.7 1717.1 1296.7 1717.9 1281.6 1718.7 1337.4 1719.5 1353.2 1720.2 1305.8 1721.0 1283.2 1721.8 1337.3 1722.6 1398.2 1723.4 1359.5 1724.1 1296.0 1724.9 1361.0 1725.7 1239.7 1726.5 1384.0 1727.3 1353.9 1728.0 1314.8 1728.8 1286.6 1729.6 1270.1 1730.4 1367.0 1731.2 1309.8 1731.9 1439.7 1732.7 1297.9 1733.5 1260.2 1734.3 1410.0 1735.1 1337.1 1735.8 1300.0 1736.6 1291.3 1737.4 1372.9 1738.2 1389.0 1739.0 1309.1 1739.7 1395.1 1740.5 1355.4 1741.3 1257.0 1742.1 1387.0 1742.9 1265.4 1743.6 1338.0 1744.4 1280.3 1745.2 1256.8 1746.0 1307.9 1746.8 1353.8 1747.5 1392.2 1748.3 1285.4 1749.1 1443.4 1749.9 1302.1 1750.7 1353.3 1751.4 1262.8 1752.2 1406.7 1753.0 1342.7 1753.8 1308.5 1754.6 1308.4 1755.3 1371.5 1756.1 1254.7 1756.9 1382.3 1757.7 1377.3 1758.5 1384.6 1759.2 1287.4 1760.0 1246.6 1760.8 1325.2 1761.6 1342.2 1762.4 1390.1 1763.1 1295.2 1763.9 1324.1 1764.7 1413.0 1765.5 1356.7 1766.3 1289.7 1767.0 1382.5 1767.8 1286.2 1768.6 1404.5 1769.4 1314.5 1770.2 1342.4 1770.9 1417.9 1771.7 1297.1 1772.5 1351.5 1773.3 1326.5 1774.1 1417.5 1774.8 1304.8 1775.6 1391.5 1776.4 1421.0 1777.2 1267.4 1778.0 1345.4 1778.7 1381.3 1779.5 1348.8 1780.3 1444.0 1781.1 1390.5 1781.9 1325.3 1782.6 1341.6 1783.4 1422.6 1784.2 1398.5 1785.0 1309.8 1785.8 1311.2 1786.5 1368.7 1787.3 1425.9 1788.1 1406.9 1788.9 1297.6 1789.7 1432.5 1790.4 1336.0 1791.2 1384.3 1792.0 1383.8 1792.8 1310.9 1793.6 1367.1 1794.3 1408.7 1795.1 1324.8 1795.9 1421.0 1796.7 1391.7 1797.5 1334.1 1798.2 1290.7 1799.0 1360.9 1799.8 1398.6 1800.6 1415.8 1801.4 1386.8 1802.1 1289.0 1802.9 1436.5 1803.7 1347.4 1804.5 1352.8 1805.3 1329.8 1806.0 1409.0 1806.8 1385.3 1807.6 1336.1 1808.4 1402.3 1809.2 1433.5 1809.9 1343.1 1810.7 1336.6 1811.5 1358.2 1812.3 1434.2 1813.1 1404.1 1813.8 1439.5 1814.6 1333.9 1815.4 1353.9 1816.2 1397.6 1817.0 1390.7 1817.7 1351.9 1818.5 1337.9 1819.3 1447.4 1820.1 1327.8 1820.9 1446.7 1821.6 1416.4 1822.4 1364.6 1823.2 1335.5 1824.0 1366.9 1824.8 1463.8 1825.5 1430.1 1826.3 1396.6 1827.1 1446.9 1827.9 1412.6 1828.7 1341.8 1829.4 1379.0 1830.2 1446.8 1831.0 1402.8 1831.8 1346.3 1832.6 1448.9 1833.3 1404.3 1834.1 1448.1 1834.9 1364.4 1835.7 1347.7 1836.5 1408.9 1837.2 1361.0 1838.0 1435.8 1838.8 1471.6 1839.6 1435.9 1840.4 1372.9 1841.1 1382.1 1841.9 1393.9 1842.7 1425.3 1843.5 1474.8 1844.3 1362.6 1845.0 1429.5 1845.8 1347.7 1846.6 1412.7 1847.4 1472.2 1848.2 1363.9 1848.9 1389.4 1849.7 1457.3 1850.5 1458.2 1851.3 1466.0 1852.1 1390.6 1852.8 1460.9 1853.6 1405.3 1854.4 1457.8 1855.2 1411.7 1856.0 1424.7 1856.7 1365.4 1857.5 1387.2 1858.3 1354.2 1859.1 1457.8 1859.9 1488.4 1860.6 1428.3 1861.4 1469.9 1862.2 1370.8 1863.0 1439.1 1863.8 1473.4 1864.5 1379.1 1865.3 1409.1 1866.1 1423.3 1866.9 1335.4 1867.7 1484.2 1868.4 1397.8 1869.2 1431.4 1870.0 1370.7 1870.8 1461.3 1871.6 1465.8 1872.3 1415.5 1873.1 1370.1 1873.9 1414.7 1874.7 1471.5 1875.5 1384.8 1876.2 1456.7 1877.0 1464.9 1877.8 1349.7 1878.6 1402.2 1879.4 1485.3 1880.1 1430.7 1880.9 1366.8 1881.7 1410.4 1882.5 1475.7 1883.3 1410.1 1884.0 1380.4 1884.8 1458.6 1885.6 1426.2 1886.4 1353.3 1887.2 1444.5 1887.9 1389.5 1888.7 1430.0 1889.5 1475.1 1890.3 1375.3 1891.1 1392.2 1891.8 1365.2 1892.6 1431.9 1893.4 1452.2 1894.2 1423.5 1895.0 1419.0 1895.7 1480.1 1896.5 1426.8 1897.3 1355.1 1898.1 1453.2 1898.9 1400.4 1899.6 1387.5 1900.4 1417.5 1901.2 1472.3 1902.0 1402.9 1902.8 1386.0 1903.5 1438.5 1904.3 1413.8 1905.1 1465.3 1905.9 1460.8 1906.7 1357.6 1907.4 1470.3 1908.2 1446.2 1909.0 1374.8 1909.8 1407.9 1910.6 1462.0 1911.3 1427.2 1912.1 1436.3 1912.9 1381.4 1913.7 1430.1 1914.5 1396.1 1915.2 1479.8 1916.0 1450.2 1916.8 1480.1 1917.6 1398.6 1918.4 1420.6 1919.1 1458.2 1919.9 1391.6 1920.7 1448.4 1921.5 1493.8 1922.3 1422.4 1923.0 1437.4 1923.8 1396.4 1924.6 1415.4 1925.4 1467.4 1926.2 1469.0 1926.9 1421.0 1927.7 1384.1 1928.5 1491.3 1929.3 1387.4 1930.1 1469.9 1930.8 1447.3 1931.6 1440.8 1932.4 1429.3 1933.2 1450.1 1934.0 1402.1 1934.7 1514.7 1935.5 1501.5 1936.3 1371.7 1937.1 1470.0 1937.9 1447.3 1938.6 1511.1 1939.4 1392.6 1940.2 1451.2 1941.0 1469.2 1941.8 1388.1 1942.5 1470.4 1943.3 1448.8 1944.1 1487.1 1944.9 1414.8 1945.7 1457.9 1946.4 1497.5 1947.2 1463.9 1948.0 1528.6 1948.8 1400.1 1949.6 1486.9 1950.3 1344.0 1951.1 1488.6 1951.9 1528.5 1952.7 1339.7 1953.5 1426.0 1954.2 1368.6 1955.0 1511.0 1955.8 1427.4 1956.6 1465.6 1957.4 1473.5 1958.1 1446.9 1958.9 1396.4 1959.7 1500.9 1960.5 1397.6 1961.3 1460.2 1962.0 1457.2 1962.8 1510.0 1963.6 1494.1 1964.4 1460.7 1965.2 1376.4 1965.9 1441.6 1966.7 1397.6 1967.5 1408.8 1968.3 1517.8 1969.1 1478.7 1969.8 1505.7 1970.6 1398.5 1971.4 1466.0 1972.2 1406.1 1973.0 1473.9 1973.7 1391.8 1974.5 1422.5 1975.3 1521.2 1976.1 1436.3 1976.9 1381.7 1977.6 1450.5 1978.4 1495.5 1979.2 1461.7 1980.0 1437.4 1980.8 1499.6 1981.5 1408.4 1982.3 1451.7 1983.1 1407.7 1983.9 1501.6 1984.7 1436.5 1985.4 1440.6 1986.2 1479.4 1987.0 1502.4 1987.8 1394.3 1988.6 1522.1 1989.3 1483.8 1990.1 1409.1 1990.9 1433.3 1991.7 1380.7 1992.5 1433.3 1993.2 1474.0 1994.0 1540.4 1994.8 1473.2 1995.6 1417.0 1996.4 1488.4 1997.1 1359.3 1997.9 1401.6 1998.7 1551.0 1999.5 1458.2 2000.3 1452.7 2001.0 1424.9 2001.8 1408.3 2002.6 1495.1 2003.4 1489.6 2004.2 1496.1 2004.9 1378.3 2005.7 1480.3 2006.5 1430.5 2007.3 1465.4 2008.1 1502.3 2008.8 1414.5 2009.6 1428.8 2010.4 1467.0 2011.2 1500.4 2012.0 1385.3 2012.7 1425.1 2013.5 1416.5 2014.3 1453.8 2015.1 1369.2 2015.9 1494.4 2016.6 1500.5 2017.4 1444.9 2018.2 1441.1 2019.0 1409.1 2019.8 1502.4 2020.5 1450.0 2021.3 1404.8 2022.1 1384.4 2022.9 1458.9 2023.7 1451.1 2024.4 1378.6 2025.2 1507.2 2026.0 1471.5 2026.8 1394.3 2027.6 1497.8 2028.3 1419.7 2029.1 1446.9 2029.9 1501.9 2030.7 1502.9 2031.5 1392.5 2032.2 1423.4 2033.0 1472.5 2033.8 1504.7 2034.6 1422.9 2035.4 1511.6 2036.1 1396.0 2036.9 1413.2 2037.7 1487.3 2038.5 1393.2 2039.3 1521.9 2040.0 1491.6 2040.8 1452.5 2041.6 1482.6 2042.4 1525.6 2043.2 1418.5 2043.9 1465.9 2044.7 1411.6 2045.5 1536.8 2046.3 1490.9 2047.1 1420.7 2047.8 1417.3 2048.6 1517.2 2049.4 1438.1 2050.2 1494.9 2051.0 1455.4 2051.7 1405.2 2052.5 1528.0 2053.3 1480.0 2054.1 1434.3 2054.9 1454.8 2055.6 1498.3 2056.4 1511.6 2057.2 1559.1 2058.0 1469.6 2058.8 1498.8 2059.5 1398.0 2060.3 1414.9 2061.1 1504.3 2061.9 1464.9 2062.7 1522.2 2063.4 1462.8 2064.2 1486.5 2065.0 1389.9 2065.8 1519.4 2066.6 1459.7 2067.3 1410.0 2068.1 1513.9 2068.9 1518.4 2069.7 1456.4 2070.5 1503.0 2071.2 1524.0 2072.0 1424.9 2072.8 1536.9 2073.6 1436.4 2074.4 1430.7 2075.1 1490.6 2075.9 1506.3 2076.7 1536.3 2077.5 1472.1 2078.3 1417.1 2079.0 1459.5 2079.8 1536.4 2080.6 1502.1 2081.4 1407.0 2082.2 1533.1 2082.9 1410.3 2083.7 1504.2 2084.5 1438.1 2085.3 1527.3 2086.1 1481.2 2086.8 1417.5 2087.6 1485.3 2088.4 1451.3 2089.2 1528.9 2090.0 1441.0 2090.7 1478.2 2091.5 1515.9 2092.3 1493.4 2093.1 1435.4 2093.9 1462.7 2094.6 1547.8 2095.4 1478.7 2096.2 1463.0 2097.0 1422.5 2097.8 1410.3 2098.5 1480.4 2099.3 1438.1 2100.1 1523.0 2100.9 1437.5 2101.7 1517.4 2102.4 1449.2 2103.2 1501.5 2104.0 1540.8 2104.8 1508.5 2105.6 1462.8 2106.3 1446.3 2107.1 1529.1 2107.9 1471.7 2108.7 1511.3 2109.5 1438.6 2110.2 1510.4 2111.0 1550.3 2111.8 1472.0 2112.6 1451.5 2113.4 1453.4 2114.1 1486.3 2114.9 1525.4 2115.7 1490.6 2116.5 1542.3 2117.3 1490.9 2118.0 1452.3 2118.8 1470.8 2119.6 1490.6 2120.4 1514.5 2121.2 1537.0 2121.9 1440.5 2122.7 1490.7 2123.5 1534.9 2124.3 1467.0 2125.1 1518.9 2125.8 1544.0 2126.6 1520.9 2127.4 1478.4 2128.2 1460.1 2129.0 1546.3 2129.7 1462.3 2130.5 1462.0 2131.3 1519.4 2132.1 1512.9 2132.9 1564.9 2133.6 1473.6 2134.4 1461.2 2135.2 1468.6 2136.0 1549.7 2136.8 1467.0 2137.5 1511.9 2138.3 1557.5 2139.1 1466.5 2139.9 1500.6 2140.7 1476.1 2141.4 1544.2 2142.2 1481.9 2143.0 1513.2 2143.8 1465.8 2144.6 1505.6 2145.3 1477.9 2146.1 1531.0 2146.9 1453.8 2147.7 1459.2 2148.5 1479.1 2149.2 1535.0 2150.0 1515.3 2150.8 1451.1 2151.6 1527.6 2152.4 1527.6 2153.1 1493.7 2153.9 1527.9 2154.7 1460.7 2155.5 1498.0 2156.3 1543.1 2157.0 1477.8 2157.8 1477.2 2158.6 1502.4 2159.4 1541.1 2160.2 1487.8 2160.9 1524.1 2161.7 1456.9 2162.5 1548.6 2163.3 1553.0 2164.1 1448.9 2164.8 1507.8 2165.6 1479.8 2166.4 1477.6 2167.2 1462.6 2168.0 1499.6 2168.7 1551.6 2169.5 1456.9 2170.3 1487.8 2171.1 1503.4 2171.9 1535.3 2172.6 1466.5 2173.4 1485.4 2174.2 1500.2 2175.0 1548.8 2175.8 1491.9 2176.5 1553.8 2177.3 1469.0 2178.1 1525.3 2178.9 1451.5 2179.7 1479.2 2180.4 1549.9 2181.2 1516.1 2182.0 1514.9 2182.8 1451.6 2183.6 1543.7 2184.3 1506.6 2185.1 1550.2 2185.9 1509.5 2186.7 1484.8 2187.5 1535.2 2188.2 1551.9 2189.0 1479.5 2189.8 1485.8 2190.6 1533.9 2191.4 1463.4 2192.1 1501.7 2192.9 1534.0 2193.7 1501.0 2194.5 1507.4 2195.3 1529.4 2196.0 1471.1 2196.8 1560.1 2197.6 1494.4 2198.4 1504.3 2199.2 1448.5 2199.9 1554.8 2200.7 1465.6 2201.5 1533.3 2202.3 1510.8 2203.1 1485.3 2203.8 1544.3 2204.6 1537.5 2205.4 1504.3 2206.2 1450.4 2207.0 1503.2 2207.7 1557.7 2208.5 1540.9 2209.3 1461.6 2210.1 1460.4 2210.9 1487.4 2211.6 1537.9 2212.4 1544.4 2213.2 1499.3 2214.0 1514.8 2214.8 1559.2 2215.5 1473.3 2216.3 1573.5 2217.1 1471.4 2217.9 1478.9 2218.7 1525.2 2219.4 1516.1 2220.2 1566.0 2221.0 1463.2 2221.8 1492.7 2222.6 1503.8 2223.3 1512.1 2224.1 1541.2 2224.9 1447.9 2225.7 1511.2 2226.5 1474.7 2227.2 1488.4 2228.0 1566.5 2228.8 1533.8 2229.6 1566.2 2230.4 1484.3 2231.1 1471.3 2231.9 1480.7 2232.7 1470.7 2233.5 1534.0 2234.3 1570.2 2235.0 1528.8 2235.8 1554.6 2236.6 1505.2 2237.4 1472.8 2238.2 1503.5 2238.9 1482.7 2239.7 1562.2 2240.5 1539.0 2241.3 1547.3 2242.1 1505.8 2242.8 1556.2 2243.6 1458.2 2244.4 1532.0 2245.2 1468.6 2246.0 1497.2 2246.7 1557.5 2247.5 1485.1 2248.3 1557.6 2249.1 1483.0 2249.9 1540.4 2250.6 1558.2 2251.4 1453.8 2252.2 1497.3 2253.0 1532.9 2253.8 1509.6 2254.5 1563.8 2255.3 1523.1 2256.1 1457.8 2256.9 1471.1 2257.7 1553.4 2258.4 1534.4 2259.2 1501.4 2260.0 1500.7 2260.8 1534.6 2261.6 1473.4 2262.3 1553.0 2263.1 1475.4 2263.9 1578.1 2264.7 1545.8 2265.5 1485.7 2266.2 1497.7 2267.0 1552.3 2267.8 1459.1 2268.6 1528.8 2269.4 1464.5 2270.1 1505.0 2270.9 1534.0 2271.7 1543.5 2272.5 1481.9 2273.3 1527.9 2274.0 1536.4 2274.8 1465.3 2275.6 1545.8 2276.4 1514.6 2277.2 1516.8 2277.9 1469.4 2278.7 1484.2 2279.5 1520.3 2280.3 1470.4 2281.1 1552.3 2281.8 1478.6 2282.6 1548.3 2283.4 1513.6 2284.2 1522.2 2285.0 1522.1 2285.7 1490.3 2286.5 1487.0 2287.3 1557.7 2288.1 1548.7 2288.9 1504.9 2289.6 1488.6 2290.4 1553.6 2291.2 1461.6 2292.0 1532.1 2292.8 1492.4 2293.5 1535.4"/>
</g>
<g font-size="72"><text x="348.3" y="1776" text-anchor="middle">10</text><text x="736.9" y="1776" text-anchor="middle">20</text><text x="1125.5" y="1776" text-anchor="middle">30</text><text x="1514.1" y="1776" text-anchor="middle">40</text><text x="1902.7" y="1776" text-anchor="middle">50</text><text x="2291.3" y="1776" text-anchor="middle">60</text></g>
<g font-size="85"><text x="939.4" y="1859.5">2</text><text x="1010.7" y="1859.5" textLength="223" lengthAdjust="spacingAndGlyphs">Theta</text><text x="1255.3" y="1859.5" textLength="316" lengthAdjust="spacingAndGlyphs">(degree)</text></g>
<g font-size="87" transform="rotate(-90)">
<text x="-1147.9" y="89" textLength="322" lengthAdjust="spacingAndGlyphs">Intensity</text>
<text x="-804.4" y="89" textLength="187" lengthAdjust="spacingAndGlyphs">(a.u.)</text>
</g>
<g stroke-width="13" stroke-linecap="round">
<line x1="1819" y1="118.4" x2="1946.5" y2="118.4" stroke="#4f4f4f"/>
<line x1="1819" y1="195.7" x2="1946.5" y2="195.7" stroke="#ff4040"/>
<line x1="1819" y1="273.5" x2="1946.5" y2="273.5" stroke="#0071e4"/>
</g>
<g font-size="59">
<text x="1982.3" y="138.8" textLength="271" lengthAdjust="spacingAndGlyphs">polymer 1</text>
<text x="1982.3" y="217.1" textLength="271" lengthAdjust="spacingAndGlyphs">polymer 2</text>
<text x="1982.3" y="293.8" textLength="271" lengthAdjust="spacingAndGlyphs">polymer 3</text>
</g>
</svg>
</body></html>
